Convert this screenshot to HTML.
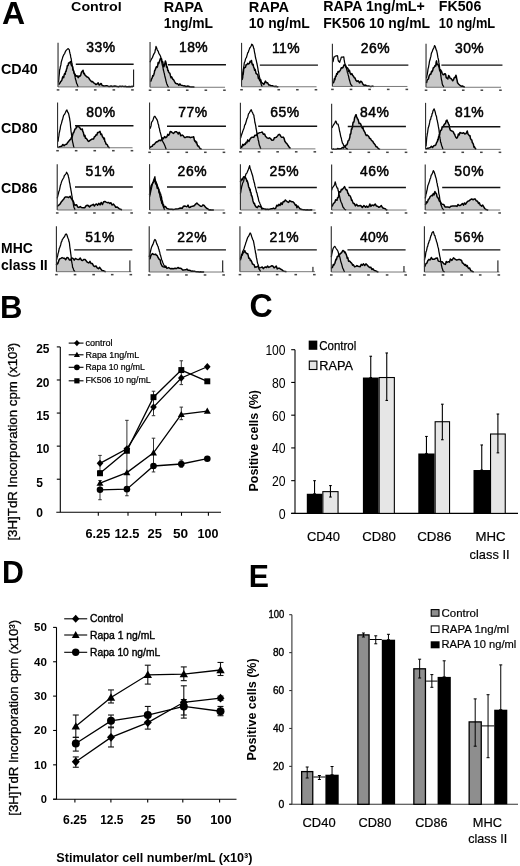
<!DOCTYPE html>
<html><head><meta charset="utf-8"><style>
html,body{margin:0;padding:0;background:#fff;}
svg{display:block;will-change:transform;}
text{font-family:"Liberation Sans",sans-serif;fill:#000;}
</style></head><body>
<svg width="520" height="866" viewBox="0 0 520 866">
<rect width="520" height="866" fill="#fff"/>
<text x="1.90" y="23.50" font-size="32" font-weight="bold" text-anchor="start" >A</text>
<text x="71.10" y="11.30" font-size="13.3" font-weight="bold" text-anchor="start" textLength="50.63" lengthAdjust="spacingAndGlyphs" >Control</text>
<text x="163.66" y="11.50" font-size="14" font-weight="bold" text-anchor="start" textLength="39.80" lengthAdjust="spacingAndGlyphs" >RAPA</text>
<text x="163.76" y="28.30" font-size="14" font-weight="bold" text-anchor="start" textLength="49.30" lengthAdjust="spacingAndGlyphs" >1ng/mL</text>
<text x="248.86" y="11.50" font-size="14" font-weight="bold" text-anchor="start" textLength="40.20" lengthAdjust="spacingAndGlyphs" >RAPA</text>
<text x="248.86" y="28.30" font-size="14" font-weight="bold" text-anchor="start" textLength="60.90" lengthAdjust="spacingAndGlyphs" >10 ng/mL</text>
<text x="323.36" y="11.30" font-size="14" font-weight="bold" text-anchor="start" textLength="101.40" lengthAdjust="spacingAndGlyphs" >RAPA 1ng/mL+</text>
<text x="323.36" y="28.00" font-size="14" font-weight="bold" text-anchor="start" textLength="106.70" lengthAdjust="spacingAndGlyphs" >FK506 10 ng/mL</text>
<text x="438.86" y="11.30" font-size="14" font-weight="bold" text-anchor="start" textLength="42.50" lengthAdjust="spacingAndGlyphs" >FK506</text>
<text x="438.86" y="28.00" font-size="14" font-weight="bold" text-anchor="start" textLength="56.30" lengthAdjust="spacingAndGlyphs" >10 ng/mL</text>
<text x="1.00" y="73.80" font-size="15" font-weight="bold" text-anchor="start" textLength="36.60" lengthAdjust="spacingAndGlyphs" >CD40</text>
<text x="1.00" y="132.70" font-size="15" font-weight="bold" text-anchor="start" textLength="36.60" lengthAdjust="spacingAndGlyphs" >CD80</text>
<text x="1.00" y="192.70" font-size="15" font-weight="bold" text-anchor="start" textLength="36.40" lengthAdjust="spacingAndGlyphs" >CD86</text>
<text x="1.00" y="252.70" font-size="15" font-weight="bold" text-anchor="start" textLength="31.80" lengthAdjust="spacingAndGlyphs" >MHC</text>
<text x="1.00" y="269.60" font-size="15" font-weight="bold" text-anchor="start" textLength="46.70" lengthAdjust="spacingAndGlyphs" >class II</text>
<path d="M58.85,86.95 L58.85,84.85 L59.45,83.11 L60.06,82.95 L60.67,81.46 L61.27,81.10 L61.88,80.15 L62.48,77.57 L63.09,76.42 L63.69,77.71 L64.18,74.80 L64.66,73.44 L65.15,74.28 L65.63,71.52 L66.12,71.25 L66.52,69.03 L66.93,68.28 L67.33,65.70 L67.73,65.84 L68.14,65.28 L68.54,63.10 L69.34,62.91 L70.15,61.90 L70.69,61.55 L71.23,64.84 L71.77,65.72 L72.17,66.12 L72.57,66.57 L72.98,70.12 L73.38,70.23 L73.99,72.13 L74.59,73.79 L75.20,74.54 L75.81,76.33 L77.02,75.67 L78.23,77.61 L79.04,75.81 L79.84,76.38 L80.65,75.41 L81.46,72.15 L82.27,71.18 L83.08,70.33 L83.69,73.63 L84.29,73.36 L84.89,75.10 L85.50,75.40 L86.71,76.79 L87.92,77.26 L88.73,77.97 L89.54,79.43 L90.35,80.24 L91.43,81.67 L92.50,81.59 L93.58,82.82 L94.79,83.42 L96.00,84.60 L97.08,83.98 L98.15,82.83 L99.23,85.05 L100.04,84.53 L100.85,83.55 L101.39,83.69 L101.92,85.17 L102.46,85.45 L103.67,86.00 L104.88,85.95 L106.10,85.87 L107.31,85.83 L108.57,86.42 L109.82,86.55 L111.08,85.96 L112.34,86.49 L113.59,86.26 L114.85,86.11 L116.11,86.24 L117.36,86.61 L118.62,86.72 L119.94,86.14 L121.26,86.54 L122.58,86.14 L123.90,86.61 L125.22,86.34 L126.55,86.73 L127.87,86.80 L129.19,86.46 L130.51,86.81 L131.83,86.33 L133.15,86.46 L133.15,86.95 Z" fill="#c8c8c8" stroke="none"/>
<path d="M58.52,82.42 L58.66,80.31 L58.80,79.53 L58.94,77.22 L59.09,75.94 L59.23,74.72 L59.37,73.49 L59.51,71.34 L59.65,69.67 L59.97,69.21 L60.30,66.82 L60.62,66.10 L60.95,64.40 L61.27,62.06 L61.67,60.76 L62.08,59.43 L62.48,58.19 L62.88,56.71 L63.45,55.45 L64.02,54.32 L64.66,53.56 L65.31,51.74 L66.12,50.42 L66.92,49.62 L68.22,48.61 L69.35,49.84 L69.59,52.00 L69.83,52.57 L70.10,53.95 L70.37,54.55 L70.64,56.46 L70.91,58.04 L71.18,58.60 L71.45,60.78 L71.73,62.42 L72.02,63.23 L72.30,65.64 L72.58,67.03 L72.98,68.95 L73.38,70.10 L73.79,72.21 L74.19,73.87 L74.54,74.26 L74.88,75.69 L75.23,77.94 L75.58,79.73 L75.93,80.11 L76.27,81.78 L76.62,83.36 L77.16,84.22 L77.69,85.66 L78.23,86.95" fill="none" stroke="#000" stroke-width="1.25" stroke-linejoin="round"/>
<path d="M58.85,84.85 L59.45,83.11 L60.06,82.95 L60.67,81.46 L61.27,81.10 L61.88,80.15 L62.48,77.57 L63.09,76.42 L63.69,77.71 L64.18,74.80 L64.66,73.44 L65.15,74.28 L65.63,71.52 L66.12,71.25 L66.52,69.03 L66.93,68.28 L67.33,65.70 L67.73,65.84 L68.14,65.28 L68.54,63.10 L69.34,62.91 L70.15,61.90 L70.69,61.55 L71.23,64.84 L71.77,65.72 L72.17,66.12 L72.57,66.57 L72.98,70.12 L73.38,70.23 L73.99,72.13 L74.59,73.79 L75.20,74.54 L75.81,76.33 L77.02,75.67 L78.23,77.61 L79.04,75.81 L79.84,76.38 L80.65,75.41 L81.46,72.15 L82.27,71.18 L83.08,70.33 L83.69,73.63 L84.29,73.36 L84.89,75.10 L85.50,75.40 L86.71,76.79 L87.92,77.26 L88.73,77.97 L89.54,79.43 L90.35,80.24 L91.43,81.67 L92.50,81.59 L93.58,82.82 L94.79,83.42 L96.00,84.60 L97.08,83.98 L98.15,82.83 L99.23,85.05 L100.04,84.53 L100.85,83.55 L101.39,83.69 L101.92,85.17 L102.46,85.45 L103.67,86.00 L104.88,85.95 L106.10,85.87 L107.31,85.83 L108.57,86.42 L109.82,86.55 L111.08,85.96 L112.34,86.49 L113.59,86.26 L114.85,86.11 L116.11,86.24 L117.36,86.61 L118.62,86.72 L119.94,86.14 L121.26,86.54 L122.58,86.14 L123.90,86.61 L125.22,86.34 L126.55,86.73 L127.87,86.80 L129.19,86.46 L130.51,86.81 L131.83,86.33 L133.15,86.46" fill="none" stroke="#000" stroke-width="1.5" stroke-linejoin="round"/>
<line x1="58.04" y1="42.85" x2="58.04" y2="86.95" stroke="#333" stroke-width="1.15"/>
<line x1="58.04" y1="86.95" x2="133.04" y2="86.95" stroke="#555" stroke-width="0.8"/>
<rect x="56.74" y="89.15" width="2.6" height="1.5" fill="#444"/>
<rect x="75.34" y="89.15" width="2.6" height="1.5" fill="#444"/>
<rect x="93.94" y="89.15" width="2.6" height="1.5" fill="#444"/>
<rect x="112.54" y="89.15" width="2.6" height="1.5" fill="#444"/>
<rect x="131.14" y="89.15" width="2.6" height="1.5" fill="#444"/>
<line x1="75.81" y1="64.33" x2="133.64" y2="64.33" stroke="#111" stroke-width="1.45"/>
<line x1="133.64" y1="69.5" x2="133.64" y2="86.95" stroke="#000" stroke-width="1"/>
<text x="86.32" y="52.33" font-size="13.9" font-weight="normal" stroke="#000" stroke-width="0.5" textLength="28.86" lengthAdjust="spacing">33%</text>
<path d="M150.52,87.27 L150.52,81.62 L151.07,80.53 L151.62,78.83 L152.17,77.96 L152.72,75.62 L153.27,76.03 L153.75,74.76 L154.24,73.00 L154.72,70.32 L155.21,70.04 L155.69,68.21 L156.30,66.78 L156.91,67.54 L157.51,66.45 L158.12,62.57 L158.72,63.65 L159.33,61.71 L159.94,59.88 L160.54,58.39 L161.35,58.68 L161.62,59.15 L161.88,60.86 L162.15,61.87 L162.69,61.74 L163.23,64.86 L163.77,66.81 L164.31,65.70 L164.84,63.62 L165.38,60.95 L165.78,62.05 L166.19,63.63 L166.59,67.10 L167.00,66.53 L167.41,67.92 L167.81,70.61 L168.22,70.19 L168.62,72.06 L169.22,72.95 L169.83,73.13 L170.44,75.79 L171.04,77.73 L171.64,76.82 L172.25,78.02 L172.86,79.56 L173.46,79.51 L174.54,81.61 L175.61,83.31 L176.69,83.67 L177.77,83.86 L178.84,85.30 L179.92,83.87 L181.13,85.36 L182.34,85.41 L183.56,85.89 L184.77,85.87 L186.06,86.46 L187.35,86.11 L188.65,86.29 L189.94,86.87 L191.23,87.09 L192.31,86.90 L193.38,87.05 L194.46,87.27 L194.46,87.27 Z" fill="#c8c8c8" stroke="none"/>
<path d="M150.04,62.23 L150.84,60.26 L151.65,58.68 L152.46,57.55 L153.27,55.32 L154.07,53.62 L154.88,52.48 L155.16,50.46 L155.45,49.52 L155.74,48.14 L156.02,46.47 L156.45,47.40 L156.88,48.56 L157.31,50.03 L158.12,51.04 L158.92,53.65 L159.73,54.73 L160.54,56.33 L160.86,57.45 L161.18,59.42 L161.51,61.06 L161.83,62.24 L162.15,64.37 L162.45,65.51 L162.76,66.31 L163.06,68.12 L163.37,70.07 L163.67,70.94 L163.97,72.47 L164.28,73.13 L164.58,75.14 L164.93,76.48 L165.27,77.78 L165.62,79.20 L165.96,80.81 L166.31,82.13 L166.65,83.45 L167.00,84.38 L167.81,86.04 L168.62,87.27" fill="none" stroke="#000" stroke-width="1.25" stroke-linejoin="round"/>
<path d="M150.52,81.62 L151.07,80.53 L151.62,78.83 L152.17,77.96 L152.72,75.62 L153.27,76.03 L153.75,74.76 L154.24,73.00 L154.72,70.32 L155.21,70.04 L155.69,68.21 L156.30,66.78 L156.91,67.54 L157.51,66.45 L158.12,62.57 L158.72,63.65 L159.33,61.71 L159.94,59.88 L160.54,58.39 L161.35,58.68 L161.62,59.15 L161.88,60.86 L162.15,61.87 L162.69,61.74 L163.23,64.86 L163.77,66.81 L164.31,65.70 L164.84,63.62 L165.38,60.95 L165.78,62.05 L166.19,63.63 L166.59,67.10 L167.00,66.53 L167.41,67.92 L167.81,70.61 L168.22,70.19 L168.62,72.06 L169.22,72.95 L169.83,73.13 L170.44,75.79 L171.04,77.73 L171.64,76.82 L172.25,78.02 L172.86,79.56 L173.46,79.51 L174.54,81.61 L175.61,83.31 L176.69,83.67 L177.77,83.86 L178.84,85.30 L179.92,83.87 L181.13,85.36 L182.34,85.41 L183.56,85.89 L184.77,85.87 L186.06,86.46 L187.35,86.11 L188.65,86.29 L189.94,86.87 L191.23,87.09 L192.31,86.90 L193.38,87.05 L194.46,87.27" fill="none" stroke="#000" stroke-width="1.5" stroke-linejoin="round"/>
<line x1="150.04" y1="42.04" x2="150.04" y2="87.27" stroke="#333" stroke-width="1.15"/>
<line x1="150.04" y1="87.27" x2="225.04" y2="87.27" stroke="#555" stroke-width="0.8"/>
<rect x="148.74" y="89.47" width="2.6" height="1.5" fill="#444"/>
<rect x="167.34" y="89.47" width="2.6" height="1.5" fill="#444"/>
<rect x="185.94" y="89.47" width="2.6" height="1.5" fill="#444"/>
<rect x="204.54" y="89.47" width="2.6" height="1.5" fill="#444"/>
<rect x="223.14" y="89.47" width="2.6" height="1.5" fill="#444"/>
<line x1="167.81" y1="64.65" x2="225.96" y2="64.65" stroke="#111" stroke-width="1.45"/>
<text x="179.12" y="52.33" font-size="13.9" font-weight="normal" stroke="#000" stroke-width="0.5" textLength="28.54" lengthAdjust="spacing">18%</text>
<path d="M242.04,86.78 L242.04,80.00 L242.24,78.85 L242.44,78.44 L242.64,77.66 L242.84,74.57 L243.05,74.69 L243.25,73.30 L243.45,71.97 L243.65,69.22 L244.26,67.77 L244.87,67.56 L245.47,67.36 L246.08,64.77 L246.89,64.66 L247.69,63.34 L248.50,64.01 L249.31,63.48 L250.11,61.15 L250.92,62.02 L251.46,60.47 L252.00,63.65 L252.54,64.90 L253.08,64.22 L253.61,67.11 L254.15,68.04 L254.64,70.29 L255.12,69.33 L255.61,71.39 L256.09,73.48 L256.58,73.93 L257.19,74.22 L257.79,74.79 L258.39,78.40 L259.00,78.31 L259.81,80.85 L260.61,79.54 L261.42,82.49 L262.63,83.30 L263.85,84.41 L265.46,81.07 L266.54,82.87 L267.61,82.78 L268.69,85.03 L269.90,85.07 L271.12,85.82 L272.33,85.73 L273.54,86.33 L274.75,86.56 L275.96,86.28 L277.17,86.66 L278.38,86.78 L278.38,86.78 Z" fill="#c8c8c8" stroke="none"/>
<path d="M242.04,78.38 L242.26,77.55 L242.48,75.48 L242.70,73.78 L242.92,72.18 L243.14,71.44 L243.36,69.14 L243.58,68.25 L243.80,66.71 L244.02,65.24 L244.24,63.18 L244.46,62.45 L244.94,61.52 L245.43,59.39 L245.91,58.12 L246.40,57.63 L246.88,55.88 L247.37,54.16 L247.85,52.50 L248.34,52.25 L248.82,50.39 L249.31,49.26 L249.91,47.78 L250.52,47.07 L251.12,45.99 L251.73,44.19 L252.54,44.68 L253.35,46.76 L253.67,48.27 L253.99,48.64 L254.32,51.01 L254.64,52.80 L254.96,54.01 L255.28,56.09 L255.61,58.03 L255.93,59.12 L256.26,60.46 L256.58,61.80 L256.90,63.50 L257.22,64.97 L257.55,66.53 L257.87,68.29 L258.19,70.79 L258.51,71.98 L258.84,73.96 L259.16,75.74 L259.49,77.20 L259.81,77.75 L260.21,80.59 L260.62,81.04 L261.02,83.61 L261.42,84.97 L262.23,86.78" fill="none" stroke="#000" stroke-width="1.25" stroke-linejoin="round"/>
<path d="M242.04,80.00 L242.24,78.85 L242.44,78.44 L242.64,77.66 L242.84,74.57 L243.05,74.69 L243.25,73.30 L243.45,71.97 L243.65,69.22 L244.26,67.77 L244.87,67.56 L245.47,67.36 L246.08,64.77 L246.89,64.66 L247.69,63.34 L248.50,64.01 L249.31,63.48 L250.11,61.15 L250.92,62.02 L251.46,60.47 L252.00,63.65 L252.54,64.90 L253.08,64.22 L253.61,67.11 L254.15,68.04 L254.64,70.29 L255.12,69.33 L255.61,71.39 L256.09,73.48 L256.58,73.93 L257.19,74.22 L257.79,74.79 L258.39,78.40 L259.00,78.31 L259.81,80.85 L260.61,79.54 L261.42,82.49 L262.63,83.30 L263.85,84.41 L265.46,81.07 L266.54,82.87 L267.61,82.78 L268.69,85.03 L269.90,85.07 L271.12,85.82 L272.33,85.73 L273.54,86.33 L274.75,86.56 L275.96,86.28 L277.17,86.66 L278.38,86.78" fill="none" stroke="#000" stroke-width="1.5" stroke-linejoin="round"/>
<line x1="241.55" y1="42.85" x2="241.55" y2="86.78" stroke="#333" stroke-width="1.15"/>
<line x1="241.55" y1="86.78" x2="316.55" y2="86.78" stroke="#555" stroke-width="0.8"/>
<rect x="240.25" y="88.98" width="2.6" height="1.5" fill="#444"/>
<rect x="258.85" y="88.98" width="2.6" height="1.5" fill="#444"/>
<rect x="277.45" y="88.98" width="2.6" height="1.5" fill="#444"/>
<rect x="296.05" y="88.98" width="2.6" height="1.5" fill="#444"/>
<rect x="314.65" y="88.98" width="2.6" height="1.5" fill="#444"/>
<line x1="259.81" y1="65.14" x2="317.96" y2="65.14" stroke="#111" stroke-width="1.45"/>
<text x="271.93" y="52.82" font-size="13.9" font-weight="normal" stroke="#000" stroke-width="0.5" textLength="27.73" lengthAdjust="spacing">11%</text>
<path d="M332.91,86.46 L332.91,83.23 L333.40,82.61 L333.88,81.76 L334.37,78.70 L334.85,79.78 L335.46,76.31 L336.06,76.44 L336.66,73.61 L337.27,74.26 L338.08,71.49 L338.88,71.97 L339.69,70.94 L340.50,69.84 L341.31,67.72 L342.12,68.10 L342.92,67.64 L344.13,64.79 L345.35,65.51 L346.15,67.55 L346.96,67.75 L347.50,68.00 L348.04,68.69 L348.58,71.58 L349.39,70.22 L350.19,73.19 L351.00,74.50 L351.81,73.66 L352.61,75.21 L353.42,76.23 L354.23,77.69 L355.04,78.01 L355.85,80.29 L357.06,81.43 L358.27,80.78 L359.48,82.96 L360.69,81.21 L361.90,82.10 L363.12,84.50 L364.33,85.28 L365.54,85.07 L366.62,85.62 L367.69,85.96 L368.77,85.98 L369.98,86.39 L371.19,86.46 L372.41,86.10 L373.62,86.46 L373.62,86.46 Z" fill="#c8c8c8" stroke="none"/>
<path d="M332.91,62.23 L333.29,60.61 L333.66,58.51 L334.04,56.88 L334.85,56.55 L335.65,56.01 L337.27,55.62 L337.55,55.86 L337.83,57.80 L338.12,59.90 L338.40,60.99 L339.69,62.27 L340.23,60.25 L340.77,59.18 L341.31,57.05 L342.52,57.18 L343.73,56.79 L343.93,57.84 L344.13,59.82 L344.34,60.68 L344.54,62.19 L345.08,64.31 L345.61,65.11 L346.15,66.64 L346.55,68.80 L346.96,70.22 L347.37,72.45 L347.77,73.19 L348.17,74.97 L348.57,76.15 L348.98,78.32 L349.38,79.74 L349.92,81.54 L350.46,83.60 L351.00,84.69 L351.81,85.83 L352.62,86.46" fill="none" stroke="#000" stroke-width="1.25" stroke-linejoin="round"/>
<path d="M332.91,83.23 L333.40,82.61 L333.88,81.76 L334.37,78.70 L334.85,79.78 L335.46,76.31 L336.06,76.44 L336.66,73.61 L337.27,74.26 L338.08,71.49 L338.88,71.97 L339.69,70.94 L340.50,69.84 L341.31,67.72 L342.12,68.10 L342.92,67.64 L344.13,64.79 L345.35,65.51 L346.15,67.55 L346.96,67.75 L347.50,68.00 L348.04,68.69 L348.58,71.58 L349.39,70.22 L350.19,73.19 L351.00,74.50 L351.81,73.66 L352.61,75.21 L353.42,76.23 L354.23,77.69 L355.04,78.01 L355.85,80.29 L357.06,81.43 L358.27,80.78 L359.48,82.96 L360.69,81.21 L361.90,82.10 L363.12,84.50 L364.33,85.28 L365.54,85.07 L366.62,85.62 L367.69,85.96 L368.77,85.98 L369.98,86.39 L371.19,86.46 L372.41,86.10 L373.62,86.46" fill="none" stroke="#000" stroke-width="1.5" stroke-linejoin="round"/>
<line x1="332.42" y1="43.65" x2="332.42" y2="86.46" stroke="#333" stroke-width="1.15"/>
<line x1="332.42" y1="86.46" x2="407.42" y2="86.46" stroke="#555" stroke-width="0.8"/>
<rect x="331.12" y="88.66" width="2.6" height="1.5" fill="#444"/>
<rect x="349.72" y="88.66" width="2.6" height="1.5" fill="#444"/>
<rect x="368.32" y="88.66" width="2.6" height="1.5" fill="#444"/>
<rect x="386.92" y="88.66" width="2.6" height="1.5" fill="#444"/>
<rect x="405.52" y="88.66" width="2.6" height="1.5" fill="#444"/>
<line x1="348.09" y1="65.14" x2="408.35" y2="65.14" stroke="#111" stroke-width="1.45"/>
<text x="360.70" y="53.14" font-size="13.9" font-weight="normal" stroke="#000" stroke-width="0.5" textLength="28.86" lengthAdjust="spacing">26%</text>
<path d="M426.52,87.27 L426.52,83.23 L427.00,80.65 L427.49,79.72 L427.97,79.29 L428.46,78.89 L429.06,76.16 L429.67,74.87 L430.27,74.00 L430.88,74.26 L431.49,71.34 L432.10,71.79 L432.70,70.36 L433.31,67.67 L433.92,67.78 L434.52,66.52 L435.12,65.42 L435.73,66.04 L436.13,62.30 L436.54,60.89 L437.08,64.54 L437.61,64.11 L438.15,64.62 L438.69,66.33 L439.23,67.78 L439.77,70.77 L440.57,69.90 L441.38,71.13 L442.19,73.37 L443.00,74.48 L443.81,74.81 L444.62,73.68 L445.16,73.67 L445.69,74.59 L446.23,77.71 L447.85,78.95 L448.65,75.46 L449.46,76.62 L450.00,78.07 L450.54,78.54 L451.08,78.40 L452.69,80.83 L453.50,79.83 L454.31,77.52 L455.12,77.56 L455.92,75.17 L456.24,75.97 L456.57,78.08 L456.89,79.37 L457.22,80.84 L457.54,82.83 L458.75,84.17 L459.96,85.33 L461.17,86.18 L462.38,86.00 L463.60,86.66 L464.81,87.27 L464.81,87.27 Z" fill="#c8c8c8" stroke="none"/>
<path d="M426.52,78.38 L426.76,76.70 L427.00,75.10 L427.25,74.32 L427.49,72.79 L427.73,71.56 L427.97,69.34 L428.22,68.06 L428.46,67.67 L428.78,65.61 L429.11,64.12 L429.43,61.67 L429.76,60.47 L430.08,59.57 L430.48,57.59 L430.88,56.46 L431.29,53.73 L431.69,52.48 L432.23,51.61 L432.77,49.77 L433.31,48.90 L433.96,47.38 L434.60,45.55 L435.41,47.13 L436.22,49.99 L436.60,50.39 L436.97,52.11 L437.35,53.92 L437.67,56.07 L438.00,57.88 L438.32,58.97 L438.64,60.62 L438.87,62.64 L439.09,63.54 L439.32,65.28 L439.54,67.23 L439.77,68.88 L440.03,69.66 L440.29,71.38 L440.54,73.03 L440.80,75.47 L441.06,77.04 L441.34,79.05 L441.62,80.37 L441.91,81.27 L442.19,83.60 L442.73,85.26 L443.27,85.87 L443.81,87.27" fill="none" stroke="#000" stroke-width="1.25" stroke-linejoin="round"/>
<path d="M426.52,83.23 L427.00,80.65 L427.49,79.72 L427.97,79.29 L428.46,78.89 L429.06,76.16 L429.67,74.87 L430.27,74.00 L430.88,74.26 L431.49,71.34 L432.10,71.79 L432.70,70.36 L433.31,67.67 L433.92,67.78 L434.52,66.52 L435.12,65.42 L435.73,66.04 L436.13,62.30 L436.54,60.89 L437.08,64.54 L437.61,64.11 L438.15,64.62 L438.69,66.33 L439.23,67.78 L439.77,70.77 L440.57,69.90 L441.38,71.13 L442.19,73.37 L443.00,74.48 L443.81,74.81 L444.62,73.68 L445.16,73.67 L445.69,74.59 L446.23,77.71 L447.85,78.95 L448.65,75.46 L449.46,76.62 L450.00,78.07 L450.54,78.54 L451.08,78.40 L452.69,80.83 L453.50,79.83 L454.31,77.52 L455.12,77.56 L455.92,75.17 L456.24,75.97 L456.57,78.08 L456.89,79.37 L457.22,80.84 L457.54,82.83 L458.75,84.17 L459.96,85.33 L461.17,86.18 L462.38,86.00 L463.60,86.66 L464.81,87.27" fill="none" stroke="#000" stroke-width="1.5" stroke-linejoin="round"/>
<line x1="426.04" y1="43.65" x2="426.04" y2="87.27" stroke="#333" stroke-width="1.15"/>
<line x1="426.04" y1="87.27" x2="501.04" y2="87.27" stroke="#555" stroke-width="0.8"/>
<rect x="424.74" y="89.47" width="2.6" height="1.5" fill="#444"/>
<rect x="443.34" y="89.47" width="2.6" height="1.5" fill="#444"/>
<rect x="461.94" y="89.47" width="2.6" height="1.5" fill="#444"/>
<rect x="480.54" y="89.47" width="2.6" height="1.5" fill="#444"/>
<rect x="499.14" y="89.47" width="2.6" height="1.5" fill="#444"/>
<line x1="441.38" y1="65.14" x2="502.45" y2="65.14" stroke="#111" stroke-width="1.45"/>
<text x="455.12" y="53.14" font-size="13.9" font-weight="normal" stroke="#000" stroke-width="0.5" textLength="28.54" lengthAdjust="spacing">30%</text>
<path d="M58.04,147.75 L58.04,147.27 L59.25,146.96 L60.46,146.41 L61.67,146.21 L62.88,144.44 L64.09,145.80 L65.31,144.50 L66.52,144.34 L67.73,142.31 L68.54,141.72 L69.34,140.42 L70.15,139.52 L70.76,139.42 L71.37,137.50 L71.97,137.66 L72.58,135.38 L73.12,133.03 L73.65,132.78 L74.19,131.20 L75.00,128.90 L75.81,128.77 L76.62,126.52 L77.42,126.73 L79.04,126.85 L79.84,127.84 L80.65,129.17 L81.46,129.42 L82.27,128.98 L82.81,131.59 L83.34,132.30 L83.88,135.04 L84.42,136.53 L84.96,135.35 L85.50,138.34 L86.31,138.37 L87.12,139.43 L87.93,140.84 L88.73,141.39 L90.35,140.22 L91.56,139.34 L92.77,139.00 L93.58,138.91 L94.38,136.64 L95.19,136.41 L96.00,134.83 L96.81,134.99 L97.62,132.43 L98.42,132.59 L100.04,131.41 L100.84,134.54 L101.65,134.15 L102.46,136.78 L103.27,137.60 L103.81,139.08 L104.34,138.15 L104.88,141.51 L105.42,141.96 L105.96,144.04 L106.50,144.23 L107.31,144.82 L108.12,146.74 L108.93,147.45 L109.73,147.75 L109.73,147.75 Z" fill="#c8c8c8" stroke="none"/>
<path d="M58.04,141.62 L58.27,139.61 L58.49,137.89 L58.72,136.69 L58.94,135.38 L59.17,133.07 L59.49,132.04 L59.81,130.37 L60.14,129.11 L60.46,126.58 L60.87,124.96 L61.27,123.88 L61.67,122.59 L62.08,120.74 L62.62,119.34 L63.15,117.06 L63.69,115.12 L64.50,114.42 L65.31,112.75 L66.12,110.91 L66.92,110.02 L67.57,111.85 L68.22,112.77 L68.60,113.74 L68.97,115.43 L69.35,117.27 L69.62,118.33 L69.88,120.33 L70.15,121.87 L70.31,123.20 L70.47,125.50 L70.64,127.70 L70.80,128.10 L70.96,130.58 L71.16,132.08 L71.36,133.24 L71.57,135.36 L71.77,137.15 L72.04,138.05 L72.31,139.88 L72.58,141.80 L72.85,142.88 L73.11,143.87 L73.38,145.51 L73.78,146.77 L74.19,147.75" fill="none" stroke="#000" stroke-width="1.25" stroke-linejoin="round"/>
<path d="M58.04,147.27 L59.25,146.96 L60.46,146.41 L61.67,146.21 L62.88,144.44 L64.09,145.80 L65.31,144.50 L66.52,144.34 L67.73,142.31 L68.54,141.72 L69.34,140.42 L70.15,139.52 L70.76,139.42 L71.37,137.50 L71.97,137.66 L72.58,135.38 L73.12,133.03 L73.65,132.78 L74.19,131.20 L75.00,128.90 L75.81,128.77 L76.62,126.52 L77.42,126.73 L79.04,126.85 L79.84,127.84 L80.65,129.17 L81.46,129.42 L82.27,128.98 L82.81,131.59 L83.34,132.30 L83.88,135.04 L84.42,136.53 L84.96,135.35 L85.50,138.34 L86.31,138.37 L87.12,139.43 L87.93,140.84 L88.73,141.39 L90.35,140.22 L91.56,139.34 L92.77,139.00 L93.58,138.91 L94.38,136.64 L95.19,136.41 L96.00,134.83 L96.81,134.99 L97.62,132.43 L98.42,132.59 L100.04,131.41 L100.84,134.54 L101.65,134.15 L102.46,136.78 L103.27,137.60 L103.81,139.08 L104.34,138.15 L104.88,141.51 L105.42,141.96 L105.96,144.04 L106.50,144.23 L107.31,144.82 L108.12,146.74 L108.93,147.45 L109.73,147.75" fill="none" stroke="#000" stroke-width="1.5" stroke-linejoin="round"/>
<line x1="57.55" y1="102.52" x2="57.55" y2="147.75" stroke="#333" stroke-width="1.15"/>
<line x1="57.55" y1="147.75" x2="132.55" y2="147.75" stroke="#555" stroke-width="0.8"/>
<rect x="56.25" y="149.95" width="2.6" height="1.5" fill="#444"/>
<rect x="74.85" y="149.95" width="2.6" height="1.5" fill="#444"/>
<rect x="93.45" y="149.95" width="2.6" height="1.5" fill="#444"/>
<rect x="112.05" y="149.95" width="2.6" height="1.5" fill="#444"/>
<rect x="130.65" y="149.95" width="2.6" height="1.5" fill="#444"/>
<line x1="75.0" y1="125.78" x2="133.48" y2="125.78" stroke="#111" stroke-width="1.45"/>
<text x="86.32" y="116.69" font-size="13.9" font-weight="normal" stroke="#000" stroke-width="0.5" textLength="28.86" lengthAdjust="spacing">80%</text>
<path d="M150.04,149.37 L150.04,147.75 L151.12,146.41 L152.19,146.32 L153.27,144.48 L154.35,144.39 L155.42,142.84 L156.50,141.86 L157.58,141.82 L158.65,140.55 L159.73,140.28 L160.94,140.68 L162.15,137.89 L163.37,138.73 L164.58,136.56 L165.79,137.60 L167.00,136.62 L167.81,134.34 L168.61,135.32 L169.42,134.15 L170.23,131.54 L171.04,131.66 L172.25,132.65 L173.46,133.43 L175.08,131.81 L176.29,131.63 L177.50,132.69 L178.31,134.03 L179.12,132.40 L179.93,133.20 L180.73,135.85 L181.94,135.04 L183.15,135.64 L184.37,137.42 L185.58,137.46 L186.79,136.82 L188.00,136.99 L189.21,137.01 L190.42,137.64 L191.63,137.17 L192.85,137.03 L193.66,136.75 L194.46,140.34 L195.00,141.42 L195.54,140.93 L196.08,142.77 L196.62,142.14 L197.15,144.57 L197.69,146.00 L198.50,145.99 L199.31,147.42 L200.12,148.63 L201.73,149.37 L201.73,149.37 Z" fill="#c8c8c8" stroke="none"/>
<path d="M150.04,128.69 L150.85,126.58 L151.12,125.40 L151.38,123.27 L151.65,122.07 L152.46,121.15 L153.27,119.16 L154.07,116.73 L154.88,116.27 L155.45,117.20 L156.02,118.22 L156.67,119.11 L157.31,120.34 L157.74,121.79 L158.17,124.02 L158.60,124.83 L158.98,127.70 L159.35,128.14 L159.73,130.48 L160.13,132.03 L160.54,133.35 L160.94,134.84 L161.35,136.68 L161.89,138.15 L162.42,140.66 L162.96,141.82 L163.77,143.26 L164.58,145.08 L165.12,146.35 L165.65,147.74 L166.19,149.37" fill="none" stroke="#000" stroke-width="1.25" stroke-linejoin="round"/>
<path d="M150.04,147.75 L151.12,146.41 L152.19,146.32 L153.27,144.48 L154.35,144.39 L155.42,142.84 L156.50,141.86 L157.58,141.82 L158.65,140.55 L159.73,140.28 L160.94,140.68 L162.15,137.89 L163.37,138.73 L164.58,136.56 L165.79,137.60 L167.00,136.62 L167.81,134.34 L168.61,135.32 L169.42,134.15 L170.23,131.54 L171.04,131.66 L172.25,132.65 L173.46,133.43 L175.08,131.81 L176.29,131.63 L177.50,132.69 L178.31,134.03 L179.12,132.40 L179.93,133.20 L180.73,135.85 L181.94,135.04 L183.15,135.64 L184.37,137.42 L185.58,137.46 L186.79,136.82 L188.00,136.99 L189.21,137.01 L190.42,137.64 L191.63,137.17 L192.85,137.03 L193.66,136.75 L194.46,140.34 L195.00,141.42 L195.54,140.93 L196.08,142.77 L196.62,142.14 L197.15,144.57 L197.69,146.00 L198.50,145.99 L199.31,147.42 L200.12,148.63 L201.73,149.37" fill="none" stroke="#000" stroke-width="1.5" stroke-linejoin="round"/>
<line x1="149.55" y1="102.52" x2="149.55" y2="149.37" stroke="#333" stroke-width="1.15"/>
<line x1="149.55" y1="149.37" x2="224.55" y2="149.37" stroke="#555" stroke-width="0.8"/>
<rect x="148.25" y="151.57" width="2.6" height="1.5" fill="#444"/>
<rect x="166.85" y="151.57" width="2.6" height="1.5" fill="#444"/>
<rect x="185.45" y="151.57" width="2.6" height="1.5" fill="#444"/>
<rect x="204.05" y="151.57" width="2.6" height="1.5" fill="#444"/>
<rect x="222.65" y="151.57" width="2.6" height="1.5" fill="#444"/>
<line x1="167.0" y1="126.27" x2="225.96" y2="126.27" stroke="#111" stroke-width="1.45"/>
<text x="178.32" y="117.18" font-size="13.9" font-weight="normal" stroke="#000" stroke-width="0.5" textLength="28.86" lengthAdjust="spacing">77%</text>
<path d="M240.42,148.88 L240.42,146.46 L241.63,147.39 L242.85,144.40 L243.66,145.48 L244.46,143.99 L245.27,144.47 L246.08,142.16 L246.88,142.79 L247.69,139.86 L248.91,141.39 L250.12,138.95 L251.33,137.50 L252.54,137.15 L253.75,137.38 L254.96,135.15 L256.17,135.48 L257.38,133.78 L258.60,133.14 L259.81,132.62 L261.02,132.38 L262.23,132.10 L263.44,134.32 L264.65,134.11 L265.46,136.16 L266.27,137.08 L267.08,137.88 L268.29,138.43 L269.50,137.79 L270.71,138.86 L271.92,140.26 L273.54,140.12 L274.35,137.79 L275.15,137.64 L276.37,137.26 L277.58,135.87 L278.39,134.82 L279.19,134.27 L280.00,134.90 L280.81,136.43 L281.62,137.21 L282.43,137.37 L283.23,137.06 L284.04,138.21 L284.85,141.24 L285.39,141.97 L285.92,142.84 L286.46,143.12 L287.27,144.20 L288.08,145.56 L289.29,147.25 L290.50,148.56 L290.50,148.88 Z" fill="#c8c8c8" stroke="none"/>
<path d="M240.42,138.38 L240.96,136.91 L241.50,134.88 L242.04,133.62 L242.58,131.82 L243.11,130.37 L243.65,129.03 L244.19,127.47 L244.73,124.97 L245.27,124.49 L245.81,122.73 L246.34,121.06 L246.88,118.93 L247.42,118.02 L247.96,116.20 L248.50,113.78 L249.31,112.80 L250.12,111.41 L251.25,109.66 L251.89,111.48 L252.54,112.58 L253.19,114.39 L253.83,115.18 L254.11,117.61 L254.40,118.50 L254.68,120.93 L254.96,122.79 L255.24,123.67 L255.52,124.86 L255.81,126.44 L256.09,128.71 L256.41,129.82 L256.74,132.26 L257.06,133.69 L257.34,135.16 L257.62,137.01 L257.91,137.90 L258.19,139.94 L258.60,140.98 L259.00,143.30 L259.40,145.26 L259.81,145.98 L260.38,147.74 L260.94,148.88" fill="none" stroke="#000" stroke-width="1.25" stroke-linejoin="round"/>
<path d="M240.42,146.46 L241.63,147.39 L242.85,144.40 L243.66,145.48 L244.46,143.99 L245.27,144.47 L246.08,142.16 L246.88,142.79 L247.69,139.86 L248.91,141.39 L250.12,138.95 L251.33,137.50 L252.54,137.15 L253.75,137.38 L254.96,135.15 L256.17,135.48 L257.38,133.78 L258.60,133.14 L259.81,132.62 L261.02,132.38 L262.23,132.10 L263.44,134.32 L264.65,134.11 L265.46,136.16 L266.27,137.08 L267.08,137.88 L268.29,138.43 L269.50,137.79 L270.71,138.86 L271.92,140.26 L273.54,140.12 L274.35,137.79 L275.15,137.64 L276.37,137.26 L277.58,135.87 L278.39,134.82 L279.19,134.27 L280.00,134.90 L280.81,136.43 L281.62,137.21 L282.43,137.37 L283.23,137.06 L284.04,138.21 L284.85,141.24 L285.39,141.97 L285.92,142.84 L286.46,143.12 L287.27,144.20 L288.08,145.56 L289.29,147.25 L290.50,148.56" fill="none" stroke="#000" stroke-width="1.5" stroke-linejoin="round"/>
<line x1="240.42" y1="102.85" x2="240.42" y2="148.88" stroke="#333" stroke-width="1.15"/>
<line x1="240.42" y1="148.88" x2="315.41999999999996" y2="148.88" stroke="#555" stroke-width="0.8"/>
<rect x="239.12" y="151.08" width="2.6" height="1.5" fill="#444"/>
<rect x="257.72" y="151.08" width="2.6" height="1.5" fill="#444"/>
<rect x="276.32" y="151.08" width="2.6" height="1.5" fill="#444"/>
<rect x="294.92" y="151.08" width="2.6" height="1.5" fill="#444"/>
<rect x="313.52" y="151.08" width="2.6" height="1.5" fill="#444"/>
<line x1="258.19" y1="126.27" x2="317.15" y2="126.27" stroke="#111" stroke-width="1.45"/>
<text x="270.32" y="117.18" font-size="13.9" font-weight="normal" stroke="#000" stroke-width="0.5" textLength="28.86" lengthAdjust="spacing">65%</text>
<path d="M331.94,149.37 L331.94,149.37 L333.45,149.07 L334.95,149.37 L336.46,149.36 L337.67,148.55 L338.88,148.97 L340.10,148.71 L341.31,148.53 L342.39,147.41 L343.46,148.03 L344.54,146.12 L345.35,146.51 L346.15,144.95 L346.96,144.77 L347.50,143.33 L348.04,140.90 L348.58,140.48 L348.98,140.10 L349.38,138.67 L349.79,137.50 L350.19,134.03 L350.51,134.25 L350.84,133.54 L351.16,130.73 L351.49,128.71 L351.81,129.39 L352.13,127.58 L352.45,127.41 L352.78,124.12 L353.10,122.37 L353.42,122.45 L353.83,121.98 L354.23,120.22 L354.63,117.49 L355.04,116.93 L355.61,115.13 L356.17,114.69 L356.60,117.09 L357.03,117.52 L357.46,119.10 L358.00,119.31 L358.54,121.20 L359.08,123.60 L359.88,123.16 L360.69,124.11 L361.50,126.40 L362.31,128.16 L362.85,126.92 L363.38,129.62 L363.92,130.59 L364.46,131.68 L365.00,132.50 L365.54,134.05 L366.35,135.59 L367.15,135.00 L367.96,135.78 L368.77,136.58 L369.57,138.53 L370.38,138.47 L371.19,139.92 L372.00,140.89 L372.81,141.44 L373.62,143.05 L374.42,143.85 L375.23,144.93 L376.04,146.71 L376.84,146.64 L377.65,147.75 L378.87,149.01 L380.08,149.37 L380.08,149.37 Z" fill="#c8c8c8" stroke="none"/>
<path d="M331.94,127.88 L332.59,126.47 L333.23,125.31 L334.52,123.32 L335.08,122.34 L335.65,121.05 L336.21,121.64 L336.78,123.94 L338.08,124.01 L338.51,126.15 L338.94,127.40 L339.37,129.82 L339.65,131.51 L339.94,132.37 L340.22,133.54 L340.50,135.48 L340.88,137.20 L341.25,137.78 L341.63,139.98 L342.06,141.67 L342.49,143.27 L342.92,143.57 L343.73,145.79 L344.54,146.08 L345.35,147.42 L346.15,148.20 L347.77,149.37" fill="none" stroke="#000" stroke-width="1.25" stroke-linejoin="round"/>
<path d="M331.94,149.37 L333.45,149.07 L334.95,149.37 L336.46,149.36 L337.67,148.55 L338.88,148.97 L340.10,148.71 L341.31,148.53 L342.39,147.41 L343.46,148.03 L344.54,146.12 L345.35,146.51 L346.15,144.95 L346.96,144.77 L347.50,143.33 L348.04,140.90 L348.58,140.48 L348.98,140.10 L349.38,138.67 L349.79,137.50 L350.19,134.03 L350.51,134.25 L350.84,133.54 L351.16,130.73 L351.49,128.71 L351.81,129.39 L352.13,127.58 L352.45,127.41 L352.78,124.12 L353.10,122.37 L353.42,122.45 L353.83,121.98 L354.23,120.22 L354.63,117.49 L355.04,116.93 L355.61,115.13 L356.17,114.69 L356.60,117.09 L357.03,117.52 L357.46,119.10 L358.00,119.31 L358.54,121.20 L359.08,123.60 L359.88,123.16 L360.69,124.11 L361.50,126.40 L362.31,128.16 L362.85,126.92 L363.38,129.62 L363.92,130.59 L364.46,131.68 L365.00,132.50 L365.54,134.05 L366.35,135.59 L367.15,135.00 L367.96,135.78 L368.77,136.58 L369.57,138.53 L370.38,138.47 L371.19,139.92 L372.00,140.89 L372.81,141.44 L373.62,143.05 L374.42,143.85 L375.23,144.93 L376.04,146.71 L376.84,146.64 L377.65,147.75 L378.87,149.01 L380.08,149.37" fill="none" stroke="#000" stroke-width="1.5" stroke-linejoin="round"/>
<line x1="331.62" y1="103.65" x2="331.62" y2="149.37" stroke="#333" stroke-width="1.15"/>
<line x1="331.62" y1="149.37" x2="406.62" y2="149.37" stroke="#555" stroke-width="0.8"/>
<rect x="330.32" y="151.57" width="2.6" height="1.5" fill="#444"/>
<rect x="348.92" y="151.57" width="2.6" height="1.5" fill="#444"/>
<rect x="367.52" y="151.57" width="2.6" height="1.5" fill="#444"/>
<rect x="386.12" y="151.57" width="2.6" height="1.5" fill="#444"/>
<rect x="404.72" y="151.57" width="2.6" height="1.5" fill="#444"/>
<line x1="347.77" y1="126.59" x2="405.92" y2="126.59" stroke="#111" stroke-width="1.45"/>
<text x="359.89" y="117.18" font-size="13.9" font-weight="normal" stroke="#000" stroke-width="0.5" textLength="28.86" lengthAdjust="spacing">84%</text>
<path d="M426.04,149.37 L426.04,148.88 L427.12,148.31 L428.19,148.30 L429.27,147.90 L430.35,147.50 L431.42,146.32 L432.50,147.47 L433.71,145.82 L434.92,145.53 L435.73,144.97 L436.54,142.68 L437.35,141.53 L437.75,139.37 L438.15,139.99 L438.56,136.78 L438.96,136.39 L439.28,134.55 L439.61,134.82 L439.93,132.78 L440.26,131.62 L440.58,130.39 L441.12,130.19 L441.65,129.50 L442.19,126.72 L443.00,126.93 L443.81,125.24 L444.62,123.99 L445.42,123.57 L446.23,120.60 L447.04,120.11 L447.58,121.92 L448.11,122.76 L448.65,124.07 L449.19,125.15 L449.73,128.52 L450.27,130.01 L451.07,130.55 L451.88,131.13 L452.69,131.26 L453.50,132.20 L454.04,133.81 L454.58,134.07 L455.12,135.70 L455.93,137.50 L456.73,138.14 L457.27,137.73 L457.81,136.40 L458.35,134.03 L459.15,134.92 L459.96,132.52 L461.17,133.07 L462.38,133.18 L463.60,132.76 L464.81,133.91 L466.02,133.63 L467.23,131.04 L468.04,134.17 L468.84,134.94 L469.65,136.06 L470.05,135.75 L470.46,138.69 L470.87,139.02 L471.27,139.88 L471.81,140.04 L472.34,142.74 L472.88,143.13 L473.42,144.52 L473.96,147.22 L474.50,146.83 L475.31,148.54 L476.12,149.37 L476.12,149.37 Z" fill="#c8c8c8" stroke="none"/>
<path d="M426.04,146.46 L426.18,144.66 L426.31,142.69 L426.45,141.47 L426.58,139.53 L426.72,137.90 L426.85,137.01 L427.08,135.66 L427.31,133.56 L427.54,132.94 L427.77,131.28 L428.00,129.29 L428.23,127.90 L428.46,127.36 L428.87,126.04 L429.27,124.30 L429.67,122.38 L430.08,120.01 L430.62,119.34 L431.15,116.77 L431.69,116.16 L432.12,113.58 L432.55,113.20 L432.98,110.89 L434.12,108.91 L434.69,110.36 L435.25,112.21 L435.68,114.44 L436.11,115.44 L436.54,116.79 L436.86,119.35 L437.19,120.15 L437.51,121.77 L437.83,123.45 L438.11,124.97 L438.39,126.72 L438.68,128.09 L438.96,129.63 L439.16,131.39 L439.37,133.39 L439.57,135.75 L439.77,137.24 L440.04,138.46 L440.31,139.53 L440.58,142.22 L440.96,142.64 L441.33,144.34 L441.71,145.74 L442.14,146.77 L442.57,148.03 L443.00,149.37" fill="none" stroke="#000" stroke-width="1.25" stroke-linejoin="round"/>
<path d="M426.04,148.88 L427.12,148.31 L428.19,148.30 L429.27,147.90 L430.35,147.50 L431.42,146.32 L432.50,147.47 L433.71,145.82 L434.92,145.53 L435.73,144.97 L436.54,142.68 L437.35,141.53 L437.75,139.37 L438.15,139.99 L438.56,136.78 L438.96,136.39 L439.28,134.55 L439.61,134.82 L439.93,132.78 L440.26,131.62 L440.58,130.39 L441.12,130.19 L441.65,129.50 L442.19,126.72 L443.00,126.93 L443.81,125.24 L444.62,123.99 L445.42,123.57 L446.23,120.60 L447.04,120.11 L447.58,121.92 L448.11,122.76 L448.65,124.07 L449.19,125.15 L449.73,128.52 L450.27,130.01 L451.07,130.55 L451.88,131.13 L452.69,131.26 L453.50,132.20 L454.04,133.81 L454.58,134.07 L455.12,135.70 L455.93,137.50 L456.73,138.14 L457.27,137.73 L457.81,136.40 L458.35,134.03 L459.15,134.92 L459.96,132.52 L461.17,133.07 L462.38,133.18 L463.60,132.76 L464.81,133.91 L466.02,133.63 L467.23,131.04 L468.04,134.17 L468.84,134.94 L469.65,136.06 L470.05,135.75 L470.46,138.69 L470.87,139.02 L471.27,139.88 L471.81,140.04 L472.34,142.74 L472.88,143.13 L473.42,144.52 L473.96,147.22 L474.50,146.83 L475.31,148.54 L476.12,149.37" fill="none" stroke="#000" stroke-width="1.5" stroke-linejoin="round"/>
<line x1="425.55" y1="102.85" x2="425.55" y2="149.37" stroke="#333" stroke-width="1.15"/>
<line x1="425.55" y1="149.37" x2="500.55" y2="149.37" stroke="#555" stroke-width="0.8"/>
<rect x="424.25" y="151.57" width="2.6" height="1.5" fill="#444"/>
<rect x="442.85" y="151.57" width="2.6" height="1.5" fill="#444"/>
<rect x="461.45" y="151.57" width="2.6" height="1.5" fill="#444"/>
<rect x="480.05" y="151.57" width="2.6" height="1.5" fill="#444"/>
<rect x="498.65" y="151.57" width="2.6" height="1.5" fill="#444"/>
<line x1="442.19" y1="126.75" x2="500.35" y2="126.75" stroke="#111" stroke-width="1.45"/>
<text x="455.12" y="117.18" font-size="13.9" font-weight="normal" stroke="#000" stroke-width="0.5" textLength="28.54" lengthAdjust="spacing">81%</text>
<path d="M57.23,210.02 L57.23,206.46 L58.85,205.03 L59.66,204.45 L60.46,203.41 L61.27,201.91 L62.08,201.05 L62.88,199.96 L63.69,199.24 L64.50,197.79 L65.31,196.97 L66.92,196.89 L68.54,197.55 L70.15,196.25 L70.96,197.97 L71.77,198.97 L72.57,200.55 L73.38,201.43 L74.19,203.83 L75.00,205.26 L75.81,205.04 L76.62,204.82 L77.83,207.11 L79.04,207.46 L80.25,206.52 L81.46,207.61 L83.07,207.70 L84.69,207.72 L86.31,205.54 L87.92,205.35 L89.53,206.91 L91.15,205.34 L92.23,205.13 L93.30,204.28 L94.38,206.06 L95.46,204.43 L96.54,204.09 L97.62,205.17 L98.83,203.28 L100.04,204.84 L101.25,202.46 L102.46,204.55 L103.67,201.79 L104.88,201.42 L106.09,202.07 L107.31,202.68 L108.52,202.39 L109.73,203.49 L110.94,202.75 L112.15,205.04 L113.37,204.01 L114.58,205.40 L115.79,207.31 L117.00,206.97 L118.21,207.77 L119.42,209.03 L120.63,209.16 L121.85,210.02 L121.85,210.02 Z" fill="#c8c8c8" stroke="none"/>
<path d="M57.23,198.38 L57.63,196.64 L58.04,194.93 L58.45,193.52 L58.85,191.41 L59.25,190.90 L59.66,189.13 L60.06,187.14 L60.46,185.18 L61.00,183.69 L61.54,181.90 L62.08,180.49 L62.88,178.98 L63.69,177.73 L64.50,175.20 L65.31,174.76 L65.95,173.74 L66.60,172.27 L67.73,174.22 L68.11,175.19 L68.48,176.99 L68.86,178.36 L69.18,180.07 L69.50,182.54 L69.83,183.42 L70.15,185.73 L70.41,187.30 L70.67,188.25 L70.93,190.07 L71.19,191.40 L71.45,192.90 L71.68,194.31 L71.90,195.84 L72.13,196.61 L72.35,199.24 L72.58,199.59 L72.86,200.90 L73.14,202.46 L73.43,204.68 L73.71,206.32 L74.14,207.79 L74.57,208.44 L75.00,210.02" fill="none" stroke="#000" stroke-width="1.25" stroke-linejoin="round"/>
<path d="M57.23,206.46 L58.85,205.03 L59.66,204.45 L60.46,203.41 L61.27,201.91 L62.08,201.05 L62.88,199.96 L63.69,199.24 L64.50,197.79 L65.31,196.97 L66.92,196.89 L68.54,197.55 L70.15,196.25 L70.96,197.97 L71.77,198.97 L72.57,200.55 L73.38,201.43 L74.19,203.83 L75.00,205.26 L75.81,205.04 L76.62,204.82 L77.83,207.11 L79.04,207.46 L80.25,206.52 L81.46,207.61 L83.07,207.70 L84.69,207.72 L86.31,205.54 L87.92,205.35 L89.53,206.91 L91.15,205.34 L92.23,205.13 L93.30,204.28 L94.38,206.06 L95.46,204.43 L96.54,204.09 L97.62,205.17 L98.83,203.28 L100.04,204.84 L101.25,202.46 L102.46,204.55 L103.67,201.79 L104.88,201.42 L106.09,202.07 L107.31,202.68 L108.52,202.39 L109.73,203.49 L110.94,202.75 L112.15,205.04 L113.37,204.01 L114.58,205.40 L115.79,207.31 L117.00,206.97 L118.21,207.77 L119.42,209.03 L120.63,209.16 L121.85,210.02" fill="none" stroke="#000" stroke-width="1.5" stroke-linejoin="round"/>
<line x1="57.23" y1="164.14" x2="57.23" y2="210.02" stroke="#333" stroke-width="1.15"/>
<line x1="57.23" y1="210.02" x2="132.23" y2="210.02" stroke="#555" stroke-width="0.8"/>
<rect x="55.93" y="212.22" width="2.6" height="1.5" fill="#444"/>
<rect x="74.53" y="212.22" width="2.6" height="1.5" fill="#444"/>
<rect x="93.13" y="212.22" width="2.6" height="1.5" fill="#444"/>
<rect x="111.73" y="212.22" width="2.6" height="1.5" fill="#444"/>
<rect x="130.33" y="212.22" width="2.6" height="1.5" fill="#444"/>
<line x1="75.0" y1="187.08" x2="132.83" y2="187.08" stroke="#111" stroke-width="1.45"/>
<text x="85.51" y="175.56" font-size="13.9" font-weight="normal" stroke="#000" stroke-width="0.5" textLength="29.18" lengthAdjust="spacing">51%</text>
<path d="M149.55,210.02 L149.55,195.15 L149.77,193.17 L149.98,192.58 L150.20,191.70 L150.42,191.05 L150.63,188.06 L150.85,187.17 L151.25,185.52 L151.66,184.80 L152.06,184.40 L152.46,183.61 L153.11,182.62 L153.75,181.85 L154.88,179.37 L155.26,180.97 L155.64,184.02 L156.02,184.03 L156.45,183.93 L156.88,186.34 L157.31,188.30 L157.85,187.40 L158.38,188.82 L158.92,189.39 L159.32,192.86 L159.73,191.90 L160.13,193.26 L160.54,193.97 L160.86,195.25 L161.19,196.22 L161.51,197.40 L161.83,200.08 L162.21,200.78 L162.58,202.32 L162.96,204.26 L163.53,204.73 L164.09,207.14 L165.38,206.55 L166.59,208.07 L167.81,208.79 L169.16,209.21 L170.50,209.17 L171.85,209.21 L173.14,209.57 L174.43,209.37 L175.73,208.97 L177.02,209.10 L178.31,208.88 L179.60,208.24 L180.89,208.03 L182.19,208.35 L183.48,206.22 L184.77,205.98 L185.85,206.35 L186.92,206.68 L188.00,205.07 L189.08,207.53 L190.15,207.29 L191.23,206.43 L192.31,206.27 L193.38,206.05 L194.46,205.49 L195.67,204.05 L196.88,203.08 L198.09,204.27 L199.31,205.26 L200.52,206.21 L201.73,206.38 L202.94,204.86 L204.15,205.48 L205.37,207.14 L206.58,208.23 L207.79,208.93 L209.00,209.89 L210.21,209.80 L211.43,209.96 L212.64,210.02 L213.85,210.02 L213.85,210.02 Z" fill="#c8c8c8" stroke="none"/>
<path d="M149.55,196.77 L149.88,195.10 L150.20,193.66 L150.53,192.61 L150.85,190.40 L151.25,189.13 L151.66,187.45 L152.06,185.37 L152.46,183.54 L153.00,182.33 L153.54,180.33 L154.08,178.84 L154.88,176.69 L155.26,179.66 L155.64,181.25 L156.02,181.63 L156.67,183.43 L157.31,185.15 L157.74,186.83 L158.17,188.41 L158.60,190.10 L158.98,192.06 L159.35,193.07 L159.73,194.62 L160.11,197.07 L160.48,197.94 L160.86,200.41 L161.29,200.89 L161.72,203.37 L162.15,203.49 L162.80,205.20 L163.45,206.96 L164.01,208.35 L164.58,210.02" fill="none" stroke="#000" stroke-width="1.25" stroke-linejoin="round"/>
<path d="M149.55,195.15 L149.77,193.17 L149.98,192.58 L150.20,191.70 L150.42,191.05 L150.63,188.06 L150.85,187.17 L151.25,185.52 L151.66,184.80 L152.06,184.40 L152.46,183.61 L153.11,182.62 L153.75,181.85 L154.88,179.37 L155.26,180.97 L155.64,184.02 L156.02,184.03 L156.45,183.93 L156.88,186.34 L157.31,188.30 L157.85,187.40 L158.38,188.82 L158.92,189.39 L159.32,192.86 L159.73,191.90 L160.13,193.26 L160.54,193.97 L160.86,195.25 L161.19,196.22 L161.51,197.40 L161.83,200.08 L162.21,200.78 L162.58,202.32 L162.96,204.26 L163.53,204.73 L164.09,207.14 L165.38,206.55 L166.59,208.07 L167.81,208.79 L169.16,209.21 L170.50,209.17 L171.85,209.21 L173.14,209.57 L174.43,209.37 L175.73,208.97 L177.02,209.10 L178.31,208.88 L179.60,208.24 L180.89,208.03 L182.19,208.35 L183.48,206.22 L184.77,205.98 L185.85,206.35 L186.92,206.68 L188.00,205.07 L189.08,207.53 L190.15,207.29 L191.23,206.43 L192.31,206.27 L193.38,206.05 L194.46,205.49 L195.67,204.05 L196.88,203.08 L198.09,204.27 L199.31,205.26 L200.52,206.21 L201.73,206.38 L202.94,204.86 L204.15,205.48 L205.37,207.14 L206.58,208.23 L207.79,208.93 L209.00,209.89 L210.21,209.80 L211.43,209.96 L212.64,210.02 L213.85,210.02" fill="none" stroke="#000" stroke-width="1.5" stroke-linejoin="round"/>
<line x1="149.55" y1="164.14" x2="149.55" y2="210.02" stroke="#333" stroke-width="1.15"/>
<line x1="149.55" y1="210.02" x2="224.55" y2="210.02" stroke="#555" stroke-width="0.8"/>
<rect x="148.25" y="212.22" width="2.6" height="1.5" fill="#444"/>
<rect x="166.85" y="212.22" width="2.6" height="1.5" fill="#444"/>
<rect x="185.45" y="212.22" width="2.6" height="1.5" fill="#444"/>
<rect x="204.05" y="212.22" width="2.6" height="1.5" fill="#444"/>
<rect x="222.65" y="212.22" width="2.6" height="1.5" fill="#444"/>
<line x1="167.0" y1="187.08" x2="225.96" y2="187.08" stroke="#111" stroke-width="1.45"/>
<text x="177.51" y="175.56" font-size="13.9" font-weight="normal" stroke="#000" stroke-width="0.5" textLength="29.18" lengthAdjust="spacing">26%</text>
<path d="M240.42,210.02 L240.42,182.23 L240.96,180.16 L241.50,179.21 L242.04,179.95 L242.84,178.30 L243.65,176.77 L245.27,176.92 L245.81,178.58 L246.34,179.06 L246.88,181.21 L247.28,180.77 L247.69,182.66 L248.09,183.62 L248.50,186.17 L248.91,187.61 L249.31,187.92 L249.72,190.20 L250.12,189.10 L250.44,192.09 L250.76,192.20 L251.09,193.31 L251.41,195.64 L251.73,195.60 L252.13,196.66 L252.54,198.58 L252.94,200.67 L253.35,202.05 L253.89,203.57 L254.42,203.28 L254.96,205.28 L256.17,206.99 L257.38,207.73 L258.46,205.91 L259.54,206.57 L260.62,206.42 L261.70,208.07 L262.77,208.33 L263.85,208.93 L264.93,208.90 L266.00,209.51 L267.08,209.09 L268.16,209.55 L269.23,209.28 L270.31,209.06 L271.39,208.70 L272.46,208.67 L273.54,208.06 L274.62,208.81 L275.69,208.24 L276.77,205.23 L277.85,206.02 L278.92,204.31 L280.00,205.45 L281.08,202.81 L282.15,204.47 L283.23,201.58 L284.31,201.69 L285.38,200.00 L286.46,200.96 L287.54,201.84 L288.61,202.47 L289.69,200.58 L290.77,201.29 L291.84,201.84 L292.92,201.68 L293.73,202.48 L294.54,203.62 L295.35,205.28 L296.16,204.80 L296.96,207.80 L297.77,205.99 L298.85,207.39 L299.92,208.80 L301.00,209.17 L302.21,209.56 L303.43,209.64 L304.64,209.72 L305.85,209.96 L307.14,209.84 L308.43,210.02 L309.73,209.90 L311.02,209.70 L312.31,210.02 L312.31,210.02 Z" fill="#c8c8c8" stroke="none"/>
<path d="M240.42,193.54 L240.74,192.30 L241.07,189.90 L241.39,188.48 L241.72,186.42 L242.04,185.60 L242.58,183.17 L243.11,182.26 L243.65,181.18 L244.19,178.36 L244.73,176.98 L245.27,176.18 L246.07,173.77 L246.88,173.13 L247.69,171.03 L248.50,169.13 L249.06,167.46 L249.63,165.64 L250.06,168.14 L250.49,169.06 L250.92,170.46 L251.46,172.11 L252.00,174.05 L252.54,175.49 L252.94,177.18 L253.34,179.37 L253.75,180.58 L254.15,182.58 L254.56,183.55 L254.96,185.96 L255.37,187.31 L255.77,188.82 L256.17,190.30 L256.57,192.26 L256.98,193.08 L257.38,194.84 L257.78,196.85 L258.19,197.77 L258.60,200.12 L259.00,201.52 L259.54,202.41 L260.08,204.00 L260.62,205.07 L261.16,206.53 L261.69,208.64 L262.23,210.02" fill="none" stroke="#000" stroke-width="1.25" stroke-linejoin="round"/>
<path d="M240.42,182.23 L240.96,180.16 L241.50,179.21 L242.04,179.95 L242.84,178.30 L243.65,176.77 L245.27,176.92 L245.81,178.58 L246.34,179.06 L246.88,181.21 L247.28,180.77 L247.69,182.66 L248.09,183.62 L248.50,186.17 L248.91,187.61 L249.31,187.92 L249.72,190.20 L250.12,189.10 L250.44,192.09 L250.76,192.20 L251.09,193.31 L251.41,195.64 L251.73,195.60 L252.13,196.66 L252.54,198.58 L252.94,200.67 L253.35,202.05 L253.89,203.57 L254.42,203.28 L254.96,205.28 L256.17,206.99 L257.38,207.73 L258.46,205.91 L259.54,206.57 L260.62,206.42 L261.70,208.07 L262.77,208.33 L263.85,208.93 L264.93,208.90 L266.00,209.51 L267.08,209.09 L268.16,209.55 L269.23,209.28 L270.31,209.06 L271.39,208.70 L272.46,208.67 L273.54,208.06 L274.62,208.81 L275.69,208.24 L276.77,205.23 L277.85,206.02 L278.92,204.31 L280.00,205.45 L281.08,202.81 L282.15,204.47 L283.23,201.58 L284.31,201.69 L285.38,200.00 L286.46,200.96 L287.54,201.84 L288.61,202.47 L289.69,200.58 L290.77,201.29 L291.84,201.84 L292.92,201.68 L293.73,202.48 L294.54,203.62 L295.35,205.28 L296.16,204.80 L296.96,207.80 L297.77,205.99 L298.85,207.39 L299.92,208.80 L301.00,209.17 L302.21,209.56 L303.43,209.64 L304.64,209.72 L305.85,209.96 L307.14,209.84 L308.43,210.02 L309.73,209.90 L311.02,209.70 L312.31,210.02" fill="none" stroke="#000" stroke-width="1.5" stroke-linejoin="round"/>
<line x1="240.42" y1="164.14" x2="240.42" y2="210.02" stroke="#333" stroke-width="1.15"/>
<line x1="240.42" y1="210.02" x2="315.41999999999996" y2="210.02" stroke="#555" stroke-width="0.8"/>
<rect x="239.12" y="212.22" width="2.6" height="1.5" fill="#444"/>
<rect x="257.72" y="212.22" width="2.6" height="1.5" fill="#444"/>
<rect x="276.32" y="212.22" width="2.6" height="1.5" fill="#444"/>
<rect x="294.92" y="212.22" width="2.6" height="1.5" fill="#444"/>
<rect x="313.52" y="212.22" width="2.6" height="1.5" fill="#444"/>
<line x1="257.38" y1="187.4" x2="316.83" y2="187.4" stroke="#111" stroke-width="1.45"/>
<text x="269.51" y="175.56" font-size="13.9" font-weight="normal" stroke="#000" stroke-width="0.5" textLength="29.18" lengthAdjust="spacing">25%</text>
<path d="M331.62,210.02 L331.62,206.46 L332.43,205.79 L333.23,203.80 L334.04,203.02 L334.85,202.23 L335.65,199.86 L336.46,199.99 L337.00,200.19 L337.54,197.65 L338.08,197.71 L338.48,196.85 L338.88,193.00 L339.29,191.77 L339.69,191.74 L340.50,192.00 L341.31,189.37 L342.12,189.77 L342.92,188.85 L344.54,186.61 L345.35,188.59 L346.15,189.90 L346.69,189.62 L347.23,190.62 L347.77,193.20 L348.31,193.25 L348.84,195.42 L349.38,195.34 L350.19,195.98 L351.00,198.03 L351.54,200.26 L352.08,200.12 L352.62,201.75 L353.43,203.60 L354.23,203.42 L355.44,205.87 L356.65,204.36 L357.87,205.92 L359.08,205.74 L360.69,205.54 L362.31,207.58 L363.93,205.52 L365.54,207.24 L366.62,206.11 L367.69,207.17 L368.77,206.73 L369.85,204.03 L370.92,206.38 L372.00,205.02 L373.62,205.64 L375.23,204.07 L376.44,206.02 L377.65,206.27 L378.87,207.36 L380.08,206.73 L381.29,205.58 L382.50,207.70 L383.71,208.19 L384.92,208.62 L386.13,209.67 L387.35,210.02 L387.35,210.02 Z" fill="#c8c8c8" stroke="none"/>
<path d="M331.62,190.31 L332.26,188.05 L332.91,187.20 L334.04,185.63 L334.61,184.47 L335.17,181.77 L335.60,183.18 L336.03,185.17 L336.46,186.25 L337.11,188.07 L337.75,188.21 L338.13,190.53 L338.50,191.52 L338.88,194.14 L339.26,194.97 L339.64,196.65 L340.02,198.39 L340.45,200.33 L340.88,201.55 L341.31,202.59 L341.85,203.51 L342.38,205.29 L342.92,206.99 L343.73,207.87 L344.54,209.25 L346.15,210.02" fill="none" stroke="#000" stroke-width="1.25" stroke-linejoin="round"/>
<path d="M331.62,206.46 L332.43,205.79 L333.23,203.80 L334.04,203.02 L334.85,202.23 L335.65,199.86 L336.46,199.99 L337.00,200.19 L337.54,197.65 L338.08,197.71 L338.48,196.85 L338.88,193.00 L339.29,191.77 L339.69,191.74 L340.50,192.00 L341.31,189.37 L342.12,189.77 L342.92,188.85 L344.54,186.61 L345.35,188.59 L346.15,189.90 L346.69,189.62 L347.23,190.62 L347.77,193.20 L348.31,193.25 L348.84,195.42 L349.38,195.34 L350.19,195.98 L351.00,198.03 L351.54,200.26 L352.08,200.12 L352.62,201.75 L353.43,203.60 L354.23,203.42 L355.44,205.87 L356.65,204.36 L357.87,205.92 L359.08,205.74 L360.69,205.54 L362.31,207.58 L363.93,205.52 L365.54,207.24 L366.62,206.11 L367.69,207.17 L368.77,206.73 L369.85,204.03 L370.92,206.38 L372.00,205.02 L373.62,205.64 L375.23,204.07 L376.44,206.02 L377.65,206.27 L378.87,207.36 L380.08,206.73 L381.29,205.58 L382.50,207.70 L383.71,208.19 L384.92,208.62 L386.13,209.67 L387.35,210.02" fill="none" stroke="#000" stroke-width="1.5" stroke-linejoin="round"/>
<line x1="331.62" y1="164.46" x2="331.62" y2="210.02" stroke="#333" stroke-width="1.15"/>
<line x1="331.62" y1="210.02" x2="406.62" y2="210.02" stroke="#555" stroke-width="0.8"/>
<rect x="330.32" y="212.22" width="2.6" height="1.5" fill="#444"/>
<rect x="348.92" y="212.22" width="2.6" height="1.5" fill="#444"/>
<rect x="367.52" y="212.22" width="2.6" height="1.5" fill="#444"/>
<rect x="386.12" y="212.22" width="2.6" height="1.5" fill="#444"/>
<rect x="404.72" y="212.22" width="2.6" height="1.5" fill="#444"/>
<line x1="348.58" y1="187.4" x2="405.92" y2="187.4" stroke="#111" stroke-width="1.45"/>
<text x="359.89" y="175.56" font-size="13.9" font-weight="normal" stroke="#000" stroke-width="0.5" textLength="28.86" lengthAdjust="spacing">46%</text>
<path d="M425.23,210.02 L425.23,204.85 L425.77,204.00 L426.31,201.84 L426.85,202.92 L427.65,201.59 L428.46,199.10 L429.27,198.84 L430.08,196.78 L430.88,195.99 L431.69,195.37 L432.50,195.69 L433.31,193.54 L434.12,194.86 L434.92,191.53 L435.73,193.08 L436.54,194.00 L437.08,196.98 L437.61,196.93 L438.15,198.30 L438.69,198.97 L439.23,200.92 L439.77,201.35 L440.57,202.01 L441.38,203.84 L442.60,204.30 L443.81,204.56 L445.02,206.96 L446.23,206.96 L447.85,206.92 L449.46,207.53 L451.07,206.17 L452.69,206.12 L454.31,206.08 L455.92,205.87 L457.00,206.45 L458.07,204.43 L459.15,205.55 L460.23,205.48 L461.30,204.68 L462.38,203.51 L463.46,205.15 L464.54,202.94 L465.62,204.22 L466.83,202.26 L468.04,201.12 L469.25,200.72 L470.46,199.59 L471.67,199.02 L472.88,199.71 L474.50,199.02 L475.31,198.97 L476.12,200.75 L476.93,200.90 L477.73,201.62 L478.54,203.48 L479.34,202.70 L480.15,205.08 L480.96,205.38 L481.77,206.17 L482.58,205.08 L483.39,206.10 L484.19,207.75 L485.00,208.77 L486.08,209.57 L487.15,209.90 L488.23,210.02 L488.23,210.02 Z" fill="#c8c8c8" stroke="none"/>
<path d="M425.23,198.38 L425.55,197.24 L425.88,194.62 L426.20,193.83 L426.53,192.31 L426.85,190.74 L427.25,189.10 L427.65,186.58 L428.06,185.02 L428.46,184.26 L429.00,182.57 L429.54,181.17 L430.08,178.93 L430.62,177.93 L431.15,175.26 L431.69,174.79 L432.50,173.07 L433.31,170.69 L434.12,171.93 L434.92,174.22 L435.33,176.03 L435.73,177.18 L436.13,178.38 L436.54,180.31 L436.86,182.69 L437.18,183.27 L437.51,186.07 L437.83,186.73 L438.15,188.28 L438.41,189.76 L438.67,192.60 L438.93,194.10 L439.19,194.90 L439.45,196.20 L439.73,198.60 L440.01,200.54 L440.30,200.93 L440.58,203.42 L441.12,205.35 L441.65,206.41 L442.19,208.10 L443.00,209.16 L443.81,210.02" fill="none" stroke="#000" stroke-width="1.25" stroke-linejoin="round"/>
<path d="M425.23,204.85 L425.77,204.00 L426.31,201.84 L426.85,202.92 L427.65,201.59 L428.46,199.10 L429.27,198.84 L430.08,196.78 L430.88,195.99 L431.69,195.37 L432.50,195.69 L433.31,193.54 L434.12,194.86 L434.92,191.53 L435.73,193.08 L436.54,194.00 L437.08,196.98 L437.61,196.93 L438.15,198.30 L438.69,198.97 L439.23,200.92 L439.77,201.35 L440.57,202.01 L441.38,203.84 L442.60,204.30 L443.81,204.56 L445.02,206.96 L446.23,206.96 L447.85,206.92 L449.46,207.53 L451.07,206.17 L452.69,206.12 L454.31,206.08 L455.92,205.87 L457.00,206.45 L458.07,204.43 L459.15,205.55 L460.23,205.48 L461.30,204.68 L462.38,203.51 L463.46,205.15 L464.54,202.94 L465.62,204.22 L466.83,202.26 L468.04,201.12 L469.25,200.72 L470.46,199.59 L471.67,199.02 L472.88,199.71 L474.50,199.02 L475.31,198.97 L476.12,200.75 L476.93,200.90 L477.73,201.62 L478.54,203.48 L479.34,202.70 L480.15,205.08 L480.96,205.38 L481.77,206.17 L482.58,205.08 L483.39,206.10 L484.19,207.75 L485.00,208.77 L486.08,209.57 L487.15,209.90 L488.23,210.02" fill="none" stroke="#000" stroke-width="1.5" stroke-linejoin="round"/>
<line x1="425.23" y1="164.46" x2="425.23" y2="210.02" stroke="#333" stroke-width="1.15"/>
<line x1="425.23" y1="210.02" x2="500.23" y2="210.02" stroke="#555" stroke-width="0.8"/>
<rect x="423.93" y="212.22" width="2.6" height="1.5" fill="#444"/>
<rect x="442.53" y="212.22" width="2.6" height="1.5" fill="#444"/>
<rect x="461.13" y="212.22" width="2.6" height="1.5" fill="#444"/>
<rect x="479.73" y="212.22" width="2.6" height="1.5" fill="#444"/>
<rect x="498.33" y="212.22" width="2.6" height="1.5" fill="#444"/>
<line x1="442.19" y1="187.4" x2="500.35" y2="187.4" stroke="#111" stroke-width="1.45"/>
<text x="454.32" y="175.56" font-size="13.9" font-weight="normal" stroke="#000" stroke-width="0.5" textLength="29.34" lengthAdjust="spacing">50%</text>
<path d="M56.42,271.69 L56.42,265.23 L56.96,263.12 L57.50,263.96 L58.04,263.07 L58.84,260.47 L59.65,258.95 L60.86,258.32 L62.08,257.60 L63.29,258.13 L64.50,258.26 L65.71,259.76 L66.92,257.58 L68.13,257.74 L69.35,259.97 L70.56,260.10 L71.77,257.98 L72.98,258.43 L74.19,260.14 L75.41,258.46 L76.62,259.13 L77.83,259.47 L79.04,259.50 L80.25,258.09 L81.46,260.20 L82.67,260.46 L83.88,259.43 L85.09,259.55 L86.31,261.00 L87.52,262.40 L88.73,262.92 L89.94,261.41 L91.15,263.54 L92.37,263.59 L93.58,265.78 L94.79,266.55 L96.00,266.00 L97.21,267.97 L98.42,268.73 L99.63,267.37 L100.85,269.01 L102.06,270.39 L103.27,270.69 L104.48,271.24 L105.69,271.69 L105.69,271.69 Z" fill="#c8c8c8" stroke="none"/>
<path d="M56.42,260.38 L56.83,258.95 L57.23,256.94 L57.63,255.93 L58.04,253.48 L58.44,252.44 L58.84,250.76 L59.25,248.41 L59.65,247.87 L60.19,246.25 L60.73,244.73 L61.27,242.19 L61.81,241.32 L62.34,239.44 L62.88,238.91 L63.69,237.53 L64.50,236.70 L65.31,234.68 L66.12,233.87 L66.93,234.99 L67.73,237.56 L68.14,238.58 L68.54,239.29 L68.94,241.54 L69.35,242.54 L69.55,244.10 L69.75,246.25 L69.95,247.79 L70.15,249.06 L70.35,250.40 L70.56,252.15 L70.76,253.77 L70.96,255.10 L71.16,256.70 L71.36,258.85 L71.57,261.04 L71.77,262.12 L72.04,263.48 L72.31,264.58 L72.58,267.44 L73.14,268.21 L73.71,270.01 L75.00,271.69" fill="none" stroke="#000" stroke-width="1.25" stroke-linejoin="round"/>
<path d="M56.42,265.23 L56.96,263.12 L57.50,263.96 L58.04,263.07 L58.84,260.47 L59.65,258.95 L60.86,258.32 L62.08,257.60 L63.29,258.13 L64.50,258.26 L65.71,259.76 L66.92,257.58 L68.13,257.74 L69.35,259.97 L70.56,260.10 L71.77,257.98 L72.98,258.43 L74.19,260.14 L75.41,258.46 L76.62,259.13 L77.83,259.47 L79.04,259.50 L80.25,258.09 L81.46,260.20 L82.67,260.46 L83.88,259.43 L85.09,259.55 L86.31,261.00 L87.52,262.40 L88.73,262.92 L89.94,261.41 L91.15,263.54 L92.37,263.59 L93.58,265.78 L94.79,266.55 L96.00,266.00 L97.21,267.97 L98.42,268.73 L99.63,267.37 L100.85,269.01 L102.06,270.39 L103.27,270.69 L104.48,271.24 L105.69,271.69" fill="none" stroke="#000" stroke-width="1.5" stroke-linejoin="round"/>
<line x1="56.42" y1="226.14" x2="56.42" y2="271.69" stroke="#333" stroke-width="1.15"/>
<line x1="56.42" y1="271.69" x2="131.42000000000002" y2="271.69" stroke="#555" stroke-width="0.8"/>
<rect x="55.12" y="273.89" width="2.6" height="1.5" fill="#444"/>
<rect x="73.72" y="273.89" width="2.6" height="1.5" fill="#444"/>
<rect x="92.32" y="273.89" width="2.6" height="1.5" fill="#444"/>
<rect x="110.92" y="273.89" width="2.6" height="1.5" fill="#444"/>
<rect x="129.52" y="273.89" width="2.6" height="1.5" fill="#444"/>
<line x1="74.19" y1="249.88" x2="132.35" y2="249.88" stroke="#111" stroke-width="1.45"/>
<line x1="129.92" y1="260.38" x2="129.92" y2="271.69" stroke="#000" stroke-width="1"/>
<text x="85.18" y="241.60" font-size="13.9" font-weight="normal" stroke="#000" stroke-width="0.5" textLength="29.19" lengthAdjust="spacing">51%</text>
<path d="M149.23,272.02 L149.23,258.77 L150.04,258.67 L150.85,255.50 L151.66,254.46 L152.46,253.64 L154.08,254.63 L155.69,254.12 L156.33,255.30 L156.98,255.23 L157.55,256.33 L158.12,257.67 L158.66,258.18 L159.19,259.43 L159.73,259.38 L160.27,260.18 L160.81,263.57 L161.35,264.46 L162.16,266.13 L162.96,266.71 L164.58,267.09 L165.79,266.15 L167.00,268.36 L168.62,267.57 L170.23,268.68 L171.84,268.60 L173.46,268.78 L175.07,268.18 L176.69,268.49 L177.91,267.45 L179.12,268.25 L180.33,268.13 L181.54,268.77 L182.62,270.06 L183.69,270.09 L184.77,269.87 L185.85,269.82 L186.92,269.06 L188.00,270.32 L189.08,270.28 L190.15,270.52 L191.23,271.13 L192.31,271.03 L193.38,271.35 L194.46,271.15 L195.67,271.63 L196.88,271.85 L198.10,271.69 L199.31,271.93 L200.52,271.82 L201.73,272.01 L202.94,271.90 L204.15,272.02 L204.15,272.02 Z" fill="#c8c8c8" stroke="none"/>
<path d="M149.23,257.15 L149.55,255.27 L149.88,254.53 L150.20,252.52 L150.52,251.29 L151.06,248.84 L151.60,247.12 L152.14,245.91 L152.94,244.36 L153.75,242.00 L154.31,240.41 L154.88,239.52 L155.45,239.93 L156.02,241.30 L156.67,243.65 L157.31,244.87 L157.74,246.14 L158.17,246.63 L158.60,248.93 L158.98,249.44 L159.35,251.40 L159.73,252.02 L160.11,254.55 L160.48,255.08 L160.86,256.54 L161.29,258.07 L161.72,259.99 L162.15,260.59 L162.96,263.04 L163.77,264.87 L164.57,266.06 L165.38,267.32 L167.00,267.65" fill="none" stroke="#000" stroke-width="1.25" stroke-linejoin="round"/>
<path d="M149.23,258.77 L150.04,258.67 L150.85,255.50 L151.66,254.46 L152.46,253.64 L154.08,254.63 L155.69,254.12 L156.33,255.30 L156.98,255.23 L157.55,256.33 L158.12,257.67 L158.66,258.18 L159.19,259.43 L159.73,259.38 L160.27,260.18 L160.81,263.57 L161.35,264.46 L162.16,266.13 L162.96,266.71 L164.58,267.09 L165.79,266.15 L167.00,268.36 L168.62,267.57 L170.23,268.68 L171.84,268.60 L173.46,268.78 L175.07,268.18 L176.69,268.49 L177.91,267.45 L179.12,268.25 L180.33,268.13 L181.54,268.77 L182.62,270.06 L183.69,270.09 L184.77,269.87 L185.85,269.82 L186.92,269.06 L188.00,270.32 L189.08,270.28 L190.15,270.52 L191.23,271.13 L192.31,271.03 L193.38,271.35 L194.46,271.15 L195.67,271.63 L196.88,271.85 L198.10,271.69 L199.31,271.93 L200.52,271.82 L201.73,272.01 L202.94,271.90 L204.15,272.02" fill="none" stroke="#000" stroke-width="1.5" stroke-linejoin="round"/>
<line x1="149.23" y1="226.14" x2="149.23" y2="272.02" stroke="#333" stroke-width="1.15"/>
<line x1="149.23" y1="272.02" x2="224.23" y2="272.02" stroke="#555" stroke-width="0.8"/>
<rect x="147.93" y="274.22" width="2.6" height="1.5" fill="#444"/>
<rect x="166.53" y="274.22" width="2.6" height="1.5" fill="#444"/>
<rect x="185.13" y="274.22" width="2.6" height="1.5" fill="#444"/>
<rect x="203.73" y="274.22" width="2.6" height="1.5" fill="#444"/>
<rect x="222.33" y="274.22" width="2.6" height="1.5" fill="#444"/>
<line x1="166.19" y1="249.88" x2="225.96" y2="249.88" stroke="#111" stroke-width="1.45"/>
<line x1="222.73" y1="260.38" x2="222.73" y2="272.02" stroke="#000" stroke-width="1"/>
<text x="177.18" y="241.60" font-size="13.9" font-weight="normal" stroke="#000" stroke-width="0.5" textLength="29.51" lengthAdjust="spacing">22%</text>
<path d="M240.42,271.69 L240.42,258.77 L240.82,257.59 L241.23,256.62 L241.63,254.58 L242.04,255.12 L242.84,253.35 L243.65,252.23 L244.78,250.57 L245.43,252.44 L246.08,252.96 L246.88,253.78 L247.69,253.63 L248.23,255.67 L248.77,258.20 L249.31,258.12 L249.85,258.70 L250.38,260.47 L250.92,260.19 L251.73,261.79 L252.54,264.13 L253.35,264.34 L254.16,264.91 L254.96,267.37 L255.77,266.91 L256.85,266.98 L257.92,266.21 L259.00,267.92 L260.62,267.63 L262.23,267.04 L263.31,268.59 L264.38,267.46 L265.46,266.96 L266.54,267.59 L267.61,266.02 L268.69,267.38 L270.31,266.56 L271.92,265.71 L273.00,266.19 L274.07,267.89 L275.15,267.15 L276.23,266.02 L277.30,268.91 L278.38,268.22 L279.60,268.30 L280.81,269.23 L282.02,269.87 L283.23,271.00 L284.31,271.23 L285.38,271.39 L286.46,271.69 L286.46,271.69 Z" fill="#c8c8c8" stroke="none"/>
<path d="M240.42,260.38 L240.82,258.74 L241.23,256.92 L241.63,255.80 L242.04,254.39 L242.58,251.68 L243.11,250.88 L243.65,249.51 L244.19,248.15 L244.73,246.23 L245.27,244.86 L245.81,242.81 L246.34,241.48 L246.88,239.71 L247.69,237.42 L248.50,236.45 L249.31,234.70 L250.12,232.97 L250.93,234.17 L251.73,236.77 L252.27,238.20 L252.81,239.78 L253.35,240.64 L253.67,242.15 L253.99,243.79 L254.32,245.68 L254.64,247.24 L254.96,249.42 L255.24,250.55 L255.52,253.00 L255.81,253.30 L256.09,255.40 L256.41,257.68 L256.74,258.77 L257.06,260.63 L257.38,262.49 L257.78,263.80 L258.19,264.77 L258.60,266.22 L259.00,269.13 L259.81,270.04 L260.62,271.69" fill="none" stroke="#000" stroke-width="1.25" stroke-linejoin="round"/>
<path d="M240.42,258.77 L240.82,257.59 L241.23,256.62 L241.63,254.58 L242.04,255.12 L242.84,253.35 L243.65,252.23 L244.78,250.57 L245.43,252.44 L246.08,252.96 L246.88,253.78 L247.69,253.63 L248.23,255.67 L248.77,258.20 L249.31,258.12 L249.85,258.70 L250.38,260.47 L250.92,260.19 L251.73,261.79 L252.54,264.13 L253.35,264.34 L254.16,264.91 L254.96,267.37 L255.77,266.91 L256.85,266.98 L257.92,266.21 L259.00,267.92 L260.62,267.63 L262.23,267.04 L263.31,268.59 L264.38,267.46 L265.46,266.96 L266.54,267.59 L267.61,266.02 L268.69,267.38 L270.31,266.56 L271.92,265.71 L273.00,266.19 L274.07,267.89 L275.15,267.15 L276.23,266.02 L277.30,268.91 L278.38,268.22 L279.60,268.30 L280.81,269.23 L282.02,269.87 L283.23,271.00 L284.31,271.23 L285.38,271.39 L286.46,271.69" fill="none" stroke="#000" stroke-width="1.5" stroke-linejoin="round"/>
<line x1="239.94" y1="226.14" x2="239.94" y2="271.69" stroke="#333" stroke-width="1.15"/>
<line x1="239.94" y1="271.69" x2="314.94" y2="271.69" stroke="#555" stroke-width="0.8"/>
<rect x="238.64" y="273.89" width="2.6" height="1.5" fill="#444"/>
<rect x="257.24" y="273.89" width="2.6" height="1.5" fill="#444"/>
<rect x="275.84" y="273.89" width="2.6" height="1.5" fill="#444"/>
<rect x="294.44" y="273.89" width="2.6" height="1.5" fill="#444"/>
<rect x="313.04" y="273.89" width="2.6" height="1.5" fill="#444"/>
<line x1="257.38" y1="249.88" x2="316.83" y2="249.88" stroke="#111" stroke-width="1.45"/>
<line x1="312.95" y1="266.85" x2="312.95" y2="271.69" stroke="#000" stroke-width="1"/>
<text x="269.51" y="241.60" font-size="13.9" font-weight="normal" stroke="#000" stroke-width="0.5" textLength="29.18" lengthAdjust="spacing">21%</text>
<path d="M331.29,272.02 L331.29,268.46 L331.94,267.62 L332.58,267.10 L333.23,264.59 L333.77,265.23 L334.31,264.16 L334.85,263.27 L335.39,261.29 L335.92,259.37 L336.46,259.67 L337.27,256.47 L338.08,256.49 L338.88,254.12 L339.69,254.73 L340.50,253.30 L341.31,253.10 L342.92,250.49 L344.22,251.33 L344.70,252.73 L345.19,252.09 L345.67,253.22 L346.15,254.36 L346.69,255.95 L347.23,258.34 L347.77,257.63 L348.57,261.20 L349.38,260.97 L350.19,261.68 L351.00,262.71 L351.81,263.30 L352.61,265.19 L353.42,264.79 L354.63,266.78 L355.85,266.37 L356.93,265.59 L358.00,266.26 L359.08,266.38 L360.16,266.74 L361.23,264.38 L362.31,265.24 L363.52,263.83 L364.73,265.58 L365.94,263.87 L367.15,265.08 L368.37,266.41 L369.58,267.54 L370.79,267.21 L372.00,269.56 L373.08,268.89 L374.15,270.36 L375.23,270.76 L376.31,271.16 L377.38,271.76 L378.46,272.02 L378.46,272.02 Z" fill="#c8c8c8" stroke="none"/>
<path d="M331.29,257.15 L331.57,255.56 L331.86,253.76 L332.14,252.55 L332.42,251.04 L332.99,248.79 L333.55,247.79 L334.20,246.73 L334.85,246.43 L335.50,247.52 L336.14,248.50 L337.27,250.05 L337.83,251.02 L338.40,252.69 L338.83,255.07 L339.26,255.62 L339.69,256.70 L340.12,258.27 L340.55,260.40 L340.98,262.09 L341.36,263.17 L341.74,264.36 L342.12,265.88 L342.69,268.16 L343.25,269.00 L343.89,270.55 L344.54,272.02" fill="none" stroke="#000" stroke-width="1.25" stroke-linejoin="round"/>
<path d="M331.29,268.46 L331.94,267.62 L332.58,267.10 L333.23,264.59 L333.77,265.23 L334.31,264.16 L334.85,263.27 L335.39,261.29 L335.92,259.37 L336.46,259.67 L337.27,256.47 L338.08,256.49 L338.88,254.12 L339.69,254.73 L340.50,253.30 L341.31,253.10 L342.92,250.49 L344.22,251.33 L344.70,252.73 L345.19,252.09 L345.67,253.22 L346.15,254.36 L346.69,255.95 L347.23,258.34 L347.77,257.63 L348.57,261.20 L349.38,260.97 L350.19,261.68 L351.00,262.71 L351.81,263.30 L352.61,265.19 L353.42,264.79 L354.63,266.78 L355.85,266.37 L356.93,265.59 L358.00,266.26 L359.08,266.38 L360.16,266.74 L361.23,264.38 L362.31,265.24 L363.52,263.83 L364.73,265.58 L365.94,263.87 L367.15,265.08 L368.37,266.41 L369.58,267.54 L370.79,267.21 L372.00,269.56 L373.08,268.89 L374.15,270.36 L375.23,270.76 L376.31,271.16 L377.38,271.76 L378.46,272.02" fill="none" stroke="#000" stroke-width="1.5" stroke-linejoin="round"/>
<line x1="331.29" y1="226.14" x2="331.29" y2="272.02" stroke="#333" stroke-width="1.15"/>
<line x1="331.29" y1="272.02" x2="406.29" y2="272.02" stroke="#555" stroke-width="0.8"/>
<rect x="329.99" y="274.22" width="2.6" height="1.5" fill="#444"/>
<rect x="348.59" y="274.22" width="2.6" height="1.5" fill="#444"/>
<rect x="367.19" y="274.22" width="2.6" height="1.5" fill="#444"/>
<rect x="385.79" y="274.22" width="2.6" height="1.5" fill="#444"/>
<rect x="404.39" y="274.22" width="2.6" height="1.5" fill="#444"/>
<line x1="347.45" y1="249.88" x2="405.6" y2="249.88" stroke="#111" stroke-width="1.45"/>
<line x1="403.98" y1="266.04" x2="403.98" y2="272.02" stroke="#000" stroke-width="1"/>
<text x="359.89" y="241.60" font-size="13.9" font-weight="normal" stroke="#000" stroke-width="0.5" textLength="28.54" lengthAdjust="spacing">40%</text>
<path d="M424.42,272.02 L424.42,266.85 L424.96,265.99 L425.50,264.78 L426.04,263.43 L426.85,263.15 L427.65,260.97 L428.87,259.38 L430.08,259.96 L431.29,257.50 L432.50,259.35 L434.12,259.34 L435.73,258.33 L437.35,257.92 L438.15,260.88 L438.96,261.18 L440.58,261.53 L442.19,261.74 L443.81,263.70 L445.42,264.40 L446.23,261.45 L447.04,262.42 L448.65,261.65 L449.46,262.09 L450.27,259.07 L451.88,260.39 L453.50,257.87 L455.12,259.04 L456.73,260.05 L458.35,259.61 L459.96,259.55 L461.58,260.50 L462.39,263.05 L463.19,263.28 L464.00,264.31 L464.81,265.30 L465.61,264.57 L466.42,266.43 L467.23,265.62 L468.04,267.75 L468.85,268.58 L469.66,267.93 L470.46,270.09 L471.27,270.98 L472.48,271.27 L473.69,272.02 L473.69,272.02 Z" fill="#c8c8c8" stroke="none"/>
<path d="M424.42,260.38 L424.74,258.54 L425.07,257.48 L425.39,256.11 L425.72,253.43 L426.04,251.62 L426.44,250.95 L426.85,249.03 L427.25,246.89 L427.65,246.50 L428.19,243.85 L428.73,242.80 L429.27,240.57 L429.81,240.02 L430.34,237.72 L430.88,235.79 L431.45,234.98 L432.02,232.65 L433.31,231.61 L433.85,233.33 L434.38,235.42 L434.92,235.66 L435.46,238.19 L436.00,239.34 L436.54,241.62 L436.94,242.60 L437.35,244.03 L437.75,246.19 L438.15,247.53 L438.47,248.47 L438.80,251.11 L439.12,252.74 L439.45,254.45 L439.73,256.11 L440.01,257.12 L440.30,258.34 L440.58,260.83 L440.86,262.12 L441.14,263.03 L441.43,265.22 L441.71,266.22 L442.14,268.31 L442.57,269.09 L443.00,270.95 L444.62,272.02" fill="none" stroke="#000" stroke-width="1.25" stroke-linejoin="round"/>
<path d="M424.42,266.85 L424.96,265.99 L425.50,264.78 L426.04,263.43 L426.85,263.15 L427.65,260.97 L428.87,259.38 L430.08,259.96 L431.29,257.50 L432.50,259.35 L434.12,259.34 L435.73,258.33 L437.35,257.92 L438.15,260.88 L438.96,261.18 L440.58,261.53 L442.19,261.74 L443.81,263.70 L445.42,264.40 L446.23,261.45 L447.04,262.42 L448.65,261.65 L449.46,262.09 L450.27,259.07 L451.88,260.39 L453.50,257.87 L455.12,259.04 L456.73,260.05 L458.35,259.61 L459.96,259.55 L461.58,260.50 L462.39,263.05 L463.19,263.28 L464.00,264.31 L464.81,265.30 L465.61,264.57 L466.42,266.43 L467.23,265.62 L468.04,267.75 L468.85,268.58 L469.66,267.93 L470.46,270.09 L471.27,270.98 L472.48,271.27 L473.69,272.02" fill="none" stroke="#000" stroke-width="1.5" stroke-linejoin="round"/>
<line x1="424.42" y1="226.14" x2="424.42" y2="272.02" stroke="#333" stroke-width="1.15"/>
<line x1="424.42" y1="272.02" x2="499.42" y2="272.02" stroke="#555" stroke-width="0.8"/>
<rect x="423.12" y="274.22" width="2.6" height="1.5" fill="#444"/>
<rect x="441.72" y="274.22" width="2.6" height="1.5" fill="#444"/>
<rect x="460.32" y="274.22" width="2.6" height="1.5" fill="#444"/>
<rect x="478.92" y="274.22" width="2.6" height="1.5" fill="#444"/>
<rect x="497.52" y="274.22" width="2.6" height="1.5" fill="#444"/>
<line x1="442.19" y1="249.88" x2="500.35" y2="249.88" stroke="#111" stroke-width="1.45"/>
<line x1="497.92" y1="260.38" x2="497.92" y2="272.02" stroke="#000" stroke-width="1"/>
<text x="454.32" y="241.60" font-size="13.9" font-weight="normal" stroke="#000" stroke-width="0.5" textLength="29.34" lengthAdjust="spacing">56%</text>
<text x="0.00" y="317.50" font-size="32" font-weight="bold" text-anchor="start" textLength="22.40" lengthAdjust="spacingAndGlyphs" >B</text>
<line x1="60.30" y1="346.90" x2="60.30" y2="512.30" stroke="#000" stroke-width="1.1"/>
<line x1="56.80" y1="479.22" x2="60.30" y2="479.22" stroke="#000" stroke-width="1.1"/>
<line x1="56.80" y1="446.14" x2="60.30" y2="446.14" stroke="#000" stroke-width="1.1"/>
<line x1="56.80" y1="413.06" x2="60.30" y2="413.06" stroke="#000" stroke-width="1.1"/>
<line x1="56.80" y1="379.98" x2="60.30" y2="379.98" stroke="#000" stroke-width="1.1"/>
<line x1="56.80" y1="346.90" x2="60.30" y2="346.90" stroke="#000" stroke-width="1.1"/>
<line x1="56.30" y1="512.30" x2="221.00" y2="512.30" stroke="#000" stroke-width="1.1"/>
<text x="36.20" y="516.70" font-size="12.5" font-weight="bold" text-anchor="start" textLength="6.70" lengthAdjust="spacingAndGlyphs" >0</text>
<text x="36.20" y="487.20" font-size="12.5" font-weight="bold" text-anchor="start" textLength="6.70" lengthAdjust="spacingAndGlyphs" >5</text>
<text x="36.20" y="453.10" font-size="12.5" font-weight="bold" text-anchor="start" textLength="13.30" lengthAdjust="spacingAndGlyphs" >10</text>
<text x="36.20" y="419.90" font-size="12.5" font-weight="bold" text-anchor="start" textLength="13.30" lengthAdjust="spacingAndGlyphs" >15</text>
<text x="36.20" y="386.70" font-size="12.5" font-weight="bold" text-anchor="start" textLength="13.30" lengthAdjust="spacingAndGlyphs" >20</text>
<text x="36.20" y="353.10" font-size="12.5" font-weight="bold" text-anchor="start" textLength="13.30" lengthAdjust="spacingAndGlyphs" >25</text>
<line x1="98.30" y1="512.30" x2="98.30" y2="515.80" stroke="#000" stroke-width="1.1"/>
<line x1="128.00" y1="512.30" x2="128.00" y2="515.80" stroke="#000" stroke-width="1.1"/>
<line x1="155.70" y1="512.30" x2="155.70" y2="515.80" stroke="#000" stroke-width="1.1"/>
<line x1="181.50" y1="512.30" x2="181.50" y2="515.80" stroke="#000" stroke-width="1.1"/>
<line x1="208.40" y1="512.30" x2="208.40" y2="515.80" stroke="#000" stroke-width="1.1"/>
<text x="85.52" y="537.60" font-size="13" font-weight="bold" text-anchor="start" textLength="24.70" lengthAdjust="spacingAndGlyphs" >6.25</text>
<text x="114.42" y="537.60" font-size="13" font-weight="bold" text-anchor="start" textLength="25.10" lengthAdjust="spacingAndGlyphs" >12.5</text>
<text x="147.62" y="537.60" font-size="13" font-weight="bold" text-anchor="start" textLength="14.50" lengthAdjust="spacingAndGlyphs" >25</text>
<text x="172.92" y="537.60" font-size="13" font-weight="bold" text-anchor="start" textLength="15.20" lengthAdjust="spacingAndGlyphs" >50</text>
<text x="197.52" y="537.60" font-size="13" font-weight="bold" text-anchor="start" textLength="20.90" lengthAdjust="spacingAndGlyphs" >100</text>
<text transform="translate(16.60,540.60) rotate(-90)" font-size="12.5" font-weight="normal" textLength="197.90" lengthAdjust="spacingAndGlyphs" stroke="#000" stroke-width="0.3">[3H]TdR Incorporation cpm (x10³)</text>
<line x1="100.00" y1="455.40" x2="100.00" y2="470.62" stroke="#333" stroke-width="1.0"/>
<line x1="98.25" y1="455.40" x2="101.75" y2="455.40" stroke="#333" stroke-width="1.0"/>
<line x1="98.25" y1="470.62" x2="101.75" y2="470.62" stroke="#333" stroke-width="1.0"/>
<line x1="100.00" y1="480.54" x2="100.00" y2="499.73" stroke="#333" stroke-width="1.0"/>
<line x1="98.25" y1="480.54" x2="101.75" y2="480.54" stroke="#333" stroke-width="1.0"/>
<line x1="98.25" y1="499.73" x2="101.75" y2="499.73" stroke="#333" stroke-width="1.0"/>
<line x1="126.90" y1="420.34" x2="126.90" y2="495.76" stroke="#333" stroke-width="1.0"/>
<line x1="125.15" y1="420.34" x2="128.65" y2="420.34" stroke="#333" stroke-width="1.0"/>
<line x1="125.15" y1="495.76" x2="128.65" y2="495.76" stroke="#333" stroke-width="1.0"/>
<line x1="153.50" y1="391.23" x2="153.50" y2="415.71" stroke="#333" stroke-width="1.0"/>
<line x1="151.75" y1="391.23" x2="155.25" y2="391.23" stroke="#333" stroke-width="1.0"/>
<line x1="151.75" y1="415.71" x2="155.25" y2="415.71" stroke="#333" stroke-width="1.0"/>
<line x1="153.50" y1="438.20" x2="153.50" y2="471.94" stroke="#333" stroke-width="1.0"/>
<line x1="151.75" y1="438.20" x2="155.25" y2="438.20" stroke="#333" stroke-width="1.0"/>
<line x1="151.75" y1="471.94" x2="155.25" y2="471.94" stroke="#333" stroke-width="1.0"/>
<line x1="181.30" y1="360.79" x2="181.30" y2="384.61" stroke="#333" stroke-width="1.0"/>
<line x1="179.55" y1="360.79" x2="183.05" y2="360.79" stroke="#333" stroke-width="1.0"/>
<line x1="179.55" y1="384.61" x2="183.05" y2="384.61" stroke="#333" stroke-width="1.0"/>
<line x1="181.30" y1="407.11" x2="181.30" y2="419.68" stroke="#333" stroke-width="1.0"/>
<line x1="179.55" y1="407.11" x2="183.05" y2="407.11" stroke="#333" stroke-width="1.0"/>
<line x1="179.55" y1="419.68" x2="183.05" y2="419.68" stroke="#333" stroke-width="1.0"/>
<line x1="181.30" y1="460.03" x2="181.30" y2="467.31" stroke="#333" stroke-width="1.0"/>
<line x1="179.55" y1="460.03" x2="183.05" y2="460.03" stroke="#333" stroke-width="1.0"/>
<line x1="179.55" y1="467.31" x2="183.05" y2="467.31" stroke="#333" stroke-width="1.0"/>
<path d="M100.00,463.34 L126.90,448.79 L153.50,407.11 L181.30,378.00 L207.30,366.75" fill="none" stroke="#000" stroke-width="1.3" />
<path d="M100.00,483.19 L126.90,472.60 L153.50,452.76 L181.30,414.38 L207.30,411.08" fill="none" stroke="#000" stroke-width="1.3" />
<path d="M100.00,489.81 L126.90,489.14 L153.50,465.99 L181.30,464.00 L207.30,458.71" fill="none" stroke="#000" stroke-width="1.3" />
<path d="M100.00,473.27 L126.90,450.77 L153.50,397.18 L181.30,370.06 L207.30,381.30" fill="none" stroke="#000" stroke-width="1.3" />
<path d="M100.00,459.71 L103.30,463.34 L100.00,466.97 L96.70,463.34 Z" fill="#000" stroke="none" stroke-width="1" />
<path d="M126.90,445.16 L130.20,448.79 L126.90,452.42 L123.60,448.79 Z" fill="#000" stroke="none" stroke-width="1" />
<path d="M153.50,403.48 L156.80,407.11 L153.50,410.74 L150.20,407.11 Z" fill="#000" stroke="none" stroke-width="1" />
<path d="M181.30,374.37 L184.60,378.00 L181.30,381.63 L178.00,378.00 Z" fill="#000" stroke="none" stroke-width="1" />
<path d="M207.30,363.12 L210.60,366.75 L207.30,370.38 L204.00,366.75 Z" fill="#000" stroke="none" stroke-width="1" />
<path d="M100.00,479.72 L103.47,485.83 L96.53,485.83 Z" fill="#000" stroke="none" stroke-width="1" />
<path d="M126.90,469.14 L130.37,475.24 L123.44,475.24 Z" fill="#000" stroke="none" stroke-width="1" />
<path d="M153.50,449.29 L156.97,455.40 L150.03,455.40 Z" fill="#000" stroke="none" stroke-width="1" />
<path d="M181.30,410.92 L184.77,417.02 L177.84,417.02 Z" fill="#000" stroke="none" stroke-width="1" />
<path d="M207.30,407.61 L210.77,413.72 L203.84,413.72 Z" fill="#000" stroke="none" stroke-width="1" />
<circle cx="100.00" cy="489.81" r="3.30" fill="#000"/>
<circle cx="126.90" cy="489.14" r="3.30" fill="#000"/>
<circle cx="153.50" cy="465.99" r="3.30" fill="#000"/>
<circle cx="181.30" cy="464.00" r="3.30" fill="#000"/>
<circle cx="207.30" cy="458.71" r="3.30" fill="#000"/>
<rect x="97.03" y="470.30" width="5.94" height="5.94" fill="#000" stroke="none" stroke-width="1"/>
<rect x="123.93" y="447.80" width="5.94" height="5.94" fill="#000" stroke="none" stroke-width="1"/>
<rect x="150.53" y="394.21" width="5.94" height="5.94" fill="#000" stroke="none" stroke-width="1"/>
<rect x="178.33" y="367.09" width="5.94" height="5.94" fill="#000" stroke="none" stroke-width="1"/>
<rect x="204.33" y="378.33" width="5.94" height="5.94" fill="#000" stroke="none" stroke-width="1"/>
<line x1="68.70" y1="343.10" x2="83.50" y2="343.10" stroke="#000" stroke-width="1.1"/>
<path d="M76.90,339.91 L79.80,343.10 L76.90,346.29 L74.00,343.10 Z" fill="#000" stroke="none" stroke-width="1" />
<text x="85.48" y="345.60" font-size="8.6" font-weight="normal" text-anchor="start" textLength="27.16" lengthAdjust="spacingAndGlyphs" stroke="#000" stroke-width="0.2">control</text>
<line x1="68.70" y1="354.80" x2="83.50" y2="354.80" stroke="#000" stroke-width="1.1"/>
<path d="M76.90,351.75 L79.95,357.12 L73.86,357.12 Z" fill="#000" stroke="none" stroke-width="1" />
<text x="85.48" y="357.50" font-size="8.6" font-weight="normal" text-anchor="start" textLength="53.66" lengthAdjust="spacingAndGlyphs" stroke="#000" stroke-width="0.2">Rapa 1ng/mL</text>
<line x1="68.70" y1="367.30" x2="83.50" y2="367.30" stroke="#000" stroke-width="1.1"/>
<circle cx="76.90" cy="367.30" r="2.90" fill="#000"/>
<text x="85.48" y="370.00" font-size="8.6" font-weight="normal" text-anchor="start" textLength="59.46" lengthAdjust="spacingAndGlyphs" stroke="#000" stroke-width="0.2">Rapa 10 ng/mL</text>
<line x1="68.70" y1="380.80" x2="83.50" y2="380.80" stroke="#000" stroke-width="1.1"/>
<rect x="74.29" y="378.19" width="5.22" height="5.22" fill="#000" stroke="none" stroke-width="1"/>
<text x="85.48" y="383.30" font-size="8.6" font-weight="normal" text-anchor="start" textLength="65.26" lengthAdjust="spacingAndGlyphs" stroke="#000" stroke-width="0.2">FK506 10 ng/mL</text>
<text x="249.60" y="317.40" font-size="33.5" font-weight="bold" text-anchor="start" textLength="23.20" lengthAdjust="spacingAndGlyphs" >C</text>
<line x1="295.00" y1="349.70" x2="295.00" y2="513.40" stroke="#000" stroke-width="1.1"/>
<line x1="291.20" y1="513.40" x2="295.00" y2="513.40" stroke="#000" stroke-width="1.1"/>
<text x="285.60" y="518.80" font-size="14" font-weight="normal" text-anchor="end" textLength="6.90" lengthAdjust="spacingAndGlyphs" >0</text>
<line x1="291.20" y1="480.66" x2="295.00" y2="480.66" stroke="#000" stroke-width="1.1"/>
<text x="285.60" y="486.06" font-size="14" font-weight="normal" text-anchor="end" textLength="13.60" lengthAdjust="spacingAndGlyphs" >20</text>
<line x1="291.20" y1="447.92" x2="295.00" y2="447.92" stroke="#000" stroke-width="1.1"/>
<text x="285.60" y="453.32" font-size="14" font-weight="normal" text-anchor="end" textLength="13.60" lengthAdjust="spacingAndGlyphs" >40</text>
<line x1="291.20" y1="415.18" x2="295.00" y2="415.18" stroke="#000" stroke-width="1.1"/>
<text x="285.60" y="420.58" font-size="14" font-weight="normal" text-anchor="end" textLength="13.60" lengthAdjust="spacingAndGlyphs" >60</text>
<line x1="291.20" y1="382.44" x2="295.00" y2="382.44" stroke="#000" stroke-width="1.1"/>
<text x="285.60" y="387.84" font-size="14" font-weight="normal" text-anchor="end" textLength="13.60" lengthAdjust="spacingAndGlyphs" >80</text>
<line x1="291.20" y1="349.70" x2="295.00" y2="349.70" stroke="#000" stroke-width="1.1"/>
<text x="285.60" y="355.10" font-size="14" font-weight="normal" text-anchor="end" textLength="20.20" lengthAdjust="spacingAndGlyphs" >100</text>
<line x1="291.20" y1="513.40" x2="518.00" y2="513.40" stroke="#000" stroke-width="1.1"/>
<text transform="translate(257.90,491.50) rotate(-90)" font-size="12.5" font-weight="bold" textLength="101.50" lengthAdjust="spacingAndGlyphs" >Positive cells (%)</text>
<rect x="308.70" y="340.60" width="8.60" height="9.20" fill="#000" stroke="none" stroke-width="1"/>
<rect x="309.30" y="361.10" width="7.60" height="8.40" fill="#e4e4e4" stroke="#000" stroke-width="1.1"/>
<text x="319.25" y="349.80" font-size="12.5" font-weight="normal" text-anchor="start" textLength="37.05" lengthAdjust="spacingAndGlyphs" stroke="#000" stroke-width="0.25">Control</text>
<text x="319.25" y="370.00" font-size="12.5" font-weight="normal" text-anchor="start" textLength="33.75" lengthAdjust="spacingAndGlyphs" stroke="#000" stroke-width="0.25">RAPA</text>
<rect x="306.80" y="493.76" width="15.50" height="19.64" fill="#000" stroke="none" stroke-width="1"/>
<line x1="314.55" y1="480.66" x2="314.55" y2="493.76" stroke="#000" stroke-width="1.1"/>
<line x1="313.25" y1="480.66" x2="315.85" y2="480.66" stroke="#000" stroke-width="1.1"/>
<line x1="313.25" y1="493.76" x2="315.85" y2="493.76" stroke="#000" stroke-width="1.1"/>
<rect x="322.85" y="491.63" width="15.20" height="21.77" fill="#e6e6e6" stroke="#000" stroke-width="1.1"/>
<line x1="330.45" y1="485.57" x2="330.45" y2="497.03" stroke="#000" stroke-width="1.1"/>
<line x1="329.15" y1="485.57" x2="331.75" y2="485.57" stroke="#000" stroke-width="1.1"/>
<line x1="329.15" y1="497.03" x2="331.75" y2="497.03" stroke="#000" stroke-width="1.1"/>
<rect x="362.90" y="377.53" width="15.70" height="135.87" fill="#000" stroke="none" stroke-width="1"/>
<line x1="370.75" y1="356.25" x2="370.75" y2="377.53" stroke="#000" stroke-width="1.1"/>
<line x1="369.45" y1="356.25" x2="372.05" y2="356.25" stroke="#000" stroke-width="1.1"/>
<line x1="369.45" y1="377.53" x2="372.05" y2="377.53" stroke="#000" stroke-width="1.1"/>
<rect x="379.15" y="377.53" width="15.20" height="135.87" fill="#e6e6e6" stroke="#000" stroke-width="1.1"/>
<line x1="386.75" y1="352.97" x2="386.75" y2="400.45" stroke="#000" stroke-width="1.1"/>
<line x1="385.45" y1="352.97" x2="388.05" y2="352.97" stroke="#000" stroke-width="1.1"/>
<line x1="385.45" y1="400.45" x2="388.05" y2="400.45" stroke="#000" stroke-width="1.1"/>
<rect x="418.30" y="453.49" width="16.30" height="59.91" fill="#000" stroke="none" stroke-width="1"/>
<line x1="426.45" y1="436.46" x2="426.45" y2="453.49" stroke="#000" stroke-width="1.1"/>
<line x1="425.15" y1="436.46" x2="427.75" y2="436.46" stroke="#000" stroke-width="1.1"/>
<line x1="425.15" y1="453.49" x2="427.75" y2="453.49" stroke="#000" stroke-width="1.1"/>
<rect x="435.15" y="421.73" width="14.40" height="91.67" fill="#e6e6e6" stroke="#000" stroke-width="1.1"/>
<line x1="442.35" y1="404.21" x2="442.35" y2="439.73" stroke="#000" stroke-width="1.1"/>
<line x1="441.05" y1="404.21" x2="443.65" y2="404.21" stroke="#000" stroke-width="1.1"/>
<line x1="441.05" y1="439.73" x2="443.65" y2="439.73" stroke="#000" stroke-width="1.1"/>
<rect x="473.50" y="470.02" width="16.50" height="43.38" fill="#000" stroke="none" stroke-width="1"/>
<line x1="481.75" y1="444.97" x2="481.75" y2="470.02" stroke="#000" stroke-width="1.1"/>
<line x1="480.45" y1="444.97" x2="483.05" y2="444.97" stroke="#000" stroke-width="1.1"/>
<line x1="480.45" y1="470.02" x2="483.05" y2="470.02" stroke="#000" stroke-width="1.1"/>
<rect x="490.55" y="434.01" width="14.70" height="79.39" fill="#e6e6e6" stroke="#000" stroke-width="1.1"/>
<line x1="497.90" y1="414.03" x2="497.90" y2="452.83" stroke="#000" stroke-width="1.1"/>
<line x1="496.60" y1="414.03" x2="499.20" y2="414.03" stroke="#000" stroke-width="1.1"/>
<line x1="496.60" y1="452.83" x2="499.20" y2="452.83" stroke="#000" stroke-width="1.1"/>
<text x="306.90" y="540.80" font-size="13.3" font-weight="normal" text-anchor="start" textLength="33.13" lengthAdjust="spacingAndGlyphs" stroke="#000" stroke-width="0.2">CD40</text>
<text x="362.20" y="540.80" font-size="13.3" font-weight="normal" text-anchor="start" textLength="33.63" lengthAdjust="spacingAndGlyphs" stroke="#000" stroke-width="0.2">CD80</text>
<text x="417.20" y="540.80" font-size="13.3" font-weight="normal" text-anchor="start" textLength="34.13" lengthAdjust="spacingAndGlyphs" stroke="#000" stroke-width="0.2">CD86</text>
<text x="475.40" y="540.80" font-size="13.3" font-weight="normal" text-anchor="start" textLength="30.13" lengthAdjust="spacingAndGlyphs" stroke="#000" stroke-width="0.2">MHC</text>
<text x="469.60" y="558.80" font-size="13.3" font-weight="normal" text-anchor="start" textLength="39.93" lengthAdjust="spacingAndGlyphs" stroke="#000" stroke-width="0.2">class II</text>
<text x="1.90" y="583.40" font-size="32" font-weight="bold" text-anchor="start" textLength="21.90" lengthAdjust="spacingAndGlyphs" >D</text>
<line x1="56.50" y1="627.30" x2="56.50" y2="799.20" stroke="#000" stroke-width="1.1"/>
<line x1="53.10" y1="799.20" x2="56.50" y2="799.20" stroke="#000" stroke-width="1.1"/>
<text x="46.90" y="803.10" font-size="11.5" font-weight="bold" text-anchor="end" textLength="6.20" lengthAdjust="spacingAndGlyphs" >0</text>
<line x1="53.10" y1="764.84" x2="56.50" y2="764.84" stroke="#000" stroke-width="1.1"/>
<text x="46.90" y="768.74" font-size="11.5" font-weight="bold" text-anchor="end" textLength="12.90" lengthAdjust="spacingAndGlyphs" >10</text>
<line x1="53.10" y1="730.48" x2="56.50" y2="730.48" stroke="#000" stroke-width="1.1"/>
<text x="46.90" y="734.38" font-size="11.5" font-weight="bold" text-anchor="end" textLength="12.90" lengthAdjust="spacingAndGlyphs" >20</text>
<line x1="53.10" y1="696.12" x2="56.50" y2="696.12" stroke="#000" stroke-width="1.1"/>
<text x="46.90" y="700.02" font-size="11.5" font-weight="bold" text-anchor="end" textLength="12.90" lengthAdjust="spacingAndGlyphs" >30</text>
<line x1="53.10" y1="661.76" x2="56.50" y2="661.76" stroke="#000" stroke-width="1.1"/>
<text x="46.90" y="665.66" font-size="11.5" font-weight="bold" text-anchor="end" textLength="12.90" lengthAdjust="spacingAndGlyphs" >40</text>
<line x1="53.10" y1="627.40" x2="56.50" y2="627.40" stroke="#000" stroke-width="1.1"/>
<text x="46.90" y="631.30" font-size="11.5" font-weight="bold" text-anchor="end" textLength="12.90" lengthAdjust="spacingAndGlyphs" >50</text>
<line x1="53.10" y1="799.20" x2="236.50" y2="799.20" stroke="#000" stroke-width="1.1"/>
<line x1="74.90" y1="799.20" x2="74.90" y2="802.50" stroke="#000" stroke-width="1.1"/>
<line x1="110.90" y1="799.20" x2="110.90" y2="802.50" stroke="#000" stroke-width="1.1"/>
<line x1="147.70" y1="799.20" x2="147.70" y2="802.50" stroke="#000" stroke-width="1.1"/>
<line x1="182.80" y1="799.20" x2="182.80" y2="802.50" stroke="#000" stroke-width="1.1"/>
<line x1="219.60" y1="799.20" x2="219.60" y2="802.50" stroke="#000" stroke-width="1.1"/>
<text x="63.12" y="823.80" font-size="13" font-weight="bold" text-anchor="start" textLength="23.70" lengthAdjust="spacingAndGlyphs" >6.25</text>
<text x="100.22" y="823.80" font-size="13" font-weight="bold" text-anchor="start" textLength="23.30" lengthAdjust="spacingAndGlyphs" >12.5</text>
<text x="140.52" y="823.80" font-size="13" font-weight="bold" text-anchor="start" textLength="14.90" lengthAdjust="spacingAndGlyphs" >25</text>
<text x="176.52" y="823.80" font-size="13" font-weight="bold" text-anchor="start" textLength="14.80" lengthAdjust="spacingAndGlyphs" >50</text>
<text x="210.22" y="823.80" font-size="13" font-weight="bold" text-anchor="start" textLength="21.30" lengthAdjust="spacingAndGlyphs" >100</text>
<text transform="translate(17.90,815.70) rotate(-90)" font-size="12.5" font-weight="normal" textLength="195.80" lengthAdjust="spacingAndGlyphs" stroke="#000" stroke-width="0.3">[3H]TdR Incorporation cpm (x10³)</text>
<text x="56.25" y="861.50" font-size="12.5" font-weight="bold" text-anchor="start" textLength="196.25" lengthAdjust="spacingAndGlyphs" >Stimulator cell number/mL (x10³)</text>
<line x1="75.80" y1="756.94" x2="75.80" y2="767.25" stroke="#111" stroke-width="1.1"/>
<line x1="72.80" y1="756.94" x2="78.80" y2="756.94" stroke="#111" stroke-width="1.1"/>
<line x1="72.80" y1="767.25" x2="78.80" y2="767.25" stroke="#111" stroke-width="1.1"/>
<line x1="111.00" y1="727.73" x2="111.00" y2="746.97" stroke="#111" stroke-width="1.1"/>
<line x1="108.00" y1="727.73" x2="114.00" y2="727.73" stroke="#111" stroke-width="1.1"/>
<line x1="108.00" y1="746.97" x2="114.00" y2="746.97" stroke="#111" stroke-width="1.1"/>
<line x1="147.80" y1="716.05" x2="147.80" y2="729.11" stroke="#111" stroke-width="1.1"/>
<line x1="144.80" y1="716.05" x2="150.80" y2="716.05" stroke="#111" stroke-width="1.1"/>
<line x1="144.80" y1="729.11" x2="150.80" y2="729.11" stroke="#111" stroke-width="1.1"/>
<line x1="183.80" y1="685.81" x2="183.80" y2="718.11" stroke="#111" stroke-width="1.1"/>
<line x1="180.80" y1="685.81" x2="186.80" y2="685.81" stroke="#111" stroke-width="1.1"/>
<line x1="180.80" y1="718.11" x2="186.80" y2="718.11" stroke="#111" stroke-width="1.1"/>
<line x1="220.50" y1="696.12" x2="220.50" y2="700.24" stroke="#111" stroke-width="1.1"/>
<line x1="217.50" y1="696.12" x2="223.50" y2="696.12" stroke="#111" stroke-width="1.1"/>
<line x1="217.50" y1="700.24" x2="223.50" y2="700.24" stroke="#111" stroke-width="1.1"/>
<line x1="75.80" y1="715.02" x2="75.80" y2="737.35" stroke="#111" stroke-width="1.1"/>
<line x1="72.80" y1="715.02" x2="78.80" y2="715.02" stroke="#111" stroke-width="1.1"/>
<line x1="72.80" y1="737.35" x2="78.80" y2="737.35" stroke="#111" stroke-width="1.1"/>
<line x1="111.00" y1="689.94" x2="111.00" y2="702.99" stroke="#111" stroke-width="1.1"/>
<line x1="108.00" y1="689.94" x2="114.00" y2="689.94" stroke="#111" stroke-width="1.1"/>
<line x1="108.00" y1="702.99" x2="114.00" y2="702.99" stroke="#111" stroke-width="1.1"/>
<line x1="147.80" y1="665.20" x2="147.80" y2="684.09" stroke="#111" stroke-width="1.1"/>
<line x1="144.80" y1="665.20" x2="150.80" y2="665.20" stroke="#111" stroke-width="1.1"/>
<line x1="144.80" y1="684.09" x2="150.80" y2="684.09" stroke="#111" stroke-width="1.1"/>
<line x1="183.80" y1="666.91" x2="183.80" y2="680.66" stroke="#111" stroke-width="1.1"/>
<line x1="180.80" y1="666.91" x2="186.80" y2="666.91" stroke="#111" stroke-width="1.1"/>
<line x1="180.80" y1="680.66" x2="186.80" y2="680.66" stroke="#111" stroke-width="1.1"/>
<line x1="220.50" y1="662.45" x2="220.50" y2="675.50" stroke="#111" stroke-width="1.1"/>
<line x1="217.50" y1="662.45" x2="223.50" y2="662.45" stroke="#111" stroke-width="1.1"/>
<line x1="217.50" y1="675.50" x2="223.50" y2="675.50" stroke="#111" stroke-width="1.1"/>
<line x1="75.80" y1="737.35" x2="75.80" y2="751.10" stroke="#111" stroke-width="1.1"/>
<line x1="72.80" y1="737.35" x2="78.80" y2="737.35" stroke="#111" stroke-width="1.1"/>
<line x1="72.80" y1="751.10" x2="78.80" y2="751.10" stroke="#111" stroke-width="1.1"/>
<line x1="111.00" y1="715.02" x2="111.00" y2="727.04" stroke="#111" stroke-width="1.1"/>
<line x1="108.00" y1="715.02" x2="114.00" y2="715.02" stroke="#111" stroke-width="1.1"/>
<line x1="108.00" y1="727.04" x2="114.00" y2="727.04" stroke="#111" stroke-width="1.1"/>
<line x1="147.80" y1="706.43" x2="147.80" y2="721.55" stroke="#111" stroke-width="1.1"/>
<line x1="144.80" y1="706.43" x2="150.80" y2="706.43" stroke="#111" stroke-width="1.1"/>
<line x1="144.80" y1="721.55" x2="150.80" y2="721.55" stroke="#111" stroke-width="1.1"/>
<line x1="183.80" y1="699.56" x2="183.80" y2="715.02" stroke="#111" stroke-width="1.1"/>
<line x1="180.80" y1="699.56" x2="186.80" y2="699.56" stroke="#111" stroke-width="1.1"/>
<line x1="180.80" y1="715.02" x2="186.80" y2="715.02" stroke="#111" stroke-width="1.1"/>
<line x1="220.50" y1="706.43" x2="220.50" y2="715.71" stroke="#111" stroke-width="1.1"/>
<line x1="217.50" y1="706.43" x2="223.50" y2="706.43" stroke="#111" stroke-width="1.1"/>
<line x1="217.50" y1="715.71" x2="223.50" y2="715.71" stroke="#111" stroke-width="1.1"/>
<path d="M75.80,761.75 L111.00,737.35 L147.80,722.58 L183.80,702.30 L220.50,698.18" fill="none" stroke="#000" stroke-width="1.3" />
<path d="M75.80,726.36 L111.00,697.49 L147.80,674.82 L183.80,674.13 L220.50,670.01" fill="none" stroke="#000" stroke-width="1.3" />
<path d="M75.80,743.54 L111.00,720.86 L147.80,715.02 L183.80,706.43 L220.50,711.24" fill="none" stroke="#000" stroke-width="1.3" />
<path d="M75.80,757.35 L79.80,761.75 L75.80,766.15 L71.80,761.75 Z" fill="#000" stroke="none" stroke-width="1" />
<path d="M111.00,732.95 L115.00,737.35 L111.00,741.75 L107.00,737.35 Z" fill="#000" stroke="none" stroke-width="1" />
<path d="M147.80,718.18 L151.80,722.58 L147.80,726.98 L143.80,722.58 Z" fill="#000" stroke="none" stroke-width="1" />
<path d="M183.80,697.90 L187.80,702.30 L183.80,706.70 L179.80,702.30 Z" fill="#000" stroke="none" stroke-width="1" />
<path d="M220.50,693.78 L224.50,698.18 L220.50,702.58 L216.50,698.18 Z" fill="#000" stroke="none" stroke-width="1" />
<path d="M75.80,722.16 L80.00,729.56 L71.60,729.56 Z" fill="#000" stroke="none" stroke-width="1" />
<path d="M111.00,693.29 L115.20,700.69 L106.80,700.69 Z" fill="#000" stroke="none" stroke-width="1" />
<path d="M147.80,670.62 L152.00,678.02 L143.60,678.02 Z" fill="#000" stroke="none" stroke-width="1" />
<path d="M183.80,669.93 L188.00,677.33 L179.60,677.33 Z" fill="#000" stroke="none" stroke-width="1" />
<path d="M220.50,665.81 L224.70,673.21 L216.30,673.21 Z" fill="#000" stroke="none" stroke-width="1" />
<circle cx="75.80" cy="743.54" r="4.00" fill="#000"/>
<circle cx="111.00" cy="720.86" r="4.00" fill="#000"/>
<circle cx="147.80" cy="715.02" r="4.00" fill="#000"/>
<circle cx="183.80" cy="706.43" r="4.00" fill="#000"/>
<circle cx="220.50" cy="711.24" r="4.00" fill="#000"/>
<line x1="64.20" y1="618.80" x2="87.20" y2="618.80" stroke="#000" stroke-width="1.1"/>
<path d="M75.70,614.73 L79.40,618.80 L75.70,622.87 L72.00,618.80 Z" fill="#000" stroke="none" stroke-width="1" />
<text x="90.04" y="622.30" font-size="11" font-weight="normal" text-anchor="start" textLength="33.20" lengthAdjust="spacingAndGlyphs" stroke="#000" stroke-width="0.4">Control</text>
<line x1="64.20" y1="635.00" x2="87.20" y2="635.00" stroke="#000" stroke-width="1.1"/>
<path d="M75.70,631.12 L79.59,637.96 L71.81,637.96 Z" fill="#000" stroke="none" stroke-width="1" />
<text x="90.04" y="638.50" font-size="11" font-weight="normal" text-anchor="start" textLength="65.00" lengthAdjust="spacingAndGlyphs" stroke="#000" stroke-width="0.4">Rapa 1 ng/mL</text>
<line x1="64.20" y1="652.30" x2="87.20" y2="652.30" stroke="#000" stroke-width="1.1"/>
<circle cx="75.70" cy="652.30" r="3.70" fill="#000"/>
<text x="90.04" y="655.80" font-size="11" font-weight="normal" text-anchor="start" textLength="70.10" lengthAdjust="spacingAndGlyphs" stroke="#000" stroke-width="0.4">Rapa 10 ng/mL</text>
<text x="248.80" y="586.80" font-size="32" font-weight="bold" text-anchor="start" textLength="20.20" lengthAdjust="spacingAndGlyphs" >E</text>
<line x1="291.90" y1="614.70" x2="291.90" y2="804.30" stroke="#333" stroke-width="1.1"/>
<line x1="289.20" y1="804.30" x2="291.90" y2="804.30" stroke="#333" stroke-width="1.1"/>
<text x="284.20" y="807.60" font-size="10" font-weight="normal" text-anchor="end" textLength="5.80" lengthAdjust="spacingAndGlyphs" stroke="#000" stroke-width="0.35">0</text>
<line x1="289.20" y1="766.38" x2="291.90" y2="766.38" stroke="#333" stroke-width="1.1"/>
<text x="284.20" y="769.68" font-size="10" font-weight="normal" text-anchor="end" textLength="11.20" lengthAdjust="spacingAndGlyphs" stroke="#000" stroke-width="0.35">20</text>
<line x1="289.20" y1="728.46" x2="291.90" y2="728.46" stroke="#333" stroke-width="1.1"/>
<text x="284.20" y="731.76" font-size="10" font-weight="normal" text-anchor="end" textLength="11.20" lengthAdjust="spacingAndGlyphs" stroke="#000" stroke-width="0.35">40</text>
<line x1="289.20" y1="690.54" x2="291.90" y2="690.54" stroke="#333" stroke-width="1.1"/>
<text x="284.20" y="693.84" font-size="10" font-weight="normal" text-anchor="end" textLength="11.20" lengthAdjust="spacingAndGlyphs" stroke="#000" stroke-width="0.35">60</text>
<line x1="289.20" y1="652.62" x2="291.90" y2="652.62" stroke="#333" stroke-width="1.1"/>
<text x="284.20" y="655.92" font-size="10" font-weight="normal" text-anchor="end" textLength="11.20" lengthAdjust="spacingAndGlyphs" stroke="#000" stroke-width="0.35">80</text>
<line x1="289.20" y1="614.70" x2="291.90" y2="614.70" stroke="#333" stroke-width="1.1"/>
<text x="284.20" y="618.00" font-size="10" font-weight="normal" text-anchor="end" textLength="15.80" lengthAdjust="spacingAndGlyphs" stroke="#000" stroke-width="0.35">100</text>
<line x1="289.20" y1="804.30" x2="518.00" y2="804.30" stroke="#333" stroke-width="1.1"/>
<text transform="translate(255.60,760.60) rotate(-90)" font-size="12.5" font-weight="bold" textLength="102.20" lengthAdjust="spacingAndGlyphs" >Positive cells (%)</text>
<rect x="431.20" y="609.60" width="7.80" height="6.60" fill="#8e8e8e" stroke="#000" stroke-width="1.1"/>
<rect x="431.20" y="625.90" width="7.80" height="6.60" fill="#fff" stroke="#000" stroke-width="1"/>
<rect x="430.70" y="641.30" width="8.90" height="7.00" fill="#000" stroke="none" stroke-width="1"/>
<text x="441.54" y="616.50" font-size="11" font-weight="normal" text-anchor="start" textLength="37.00" lengthAdjust="spacingAndGlyphs" stroke="#000" stroke-width="0.2">Control</text>
<text x="441.54" y="632.80" font-size="11" font-weight="normal" text-anchor="start" textLength="67.40" lengthAdjust="spacingAndGlyphs" stroke="#000" stroke-width="0.2">RAPA 1ng/ml</text>
<text x="441.54" y="648.40" font-size="11" font-weight="normal" text-anchor="start" textLength="74.70" lengthAdjust="spacingAndGlyphs" stroke="#000" stroke-width="0.2">RAPA 10 ng/ml</text>
<rect x="301.65" y="771.60" width="11.10" height="32.70" fill="#8e8e8e" stroke="#000" stroke-width="1.3"/>
<line x1="307.20" y1="767.00" x2="307.20" y2="778.00" stroke="#000" stroke-width="1"/>
<line x1="305.70" y1="767.00" x2="308.70" y2="767.00" stroke="#000" stroke-width="1"/>
<line x1="305.70" y1="778.00" x2="308.70" y2="778.00" stroke="#000" stroke-width="1"/>
<line x1="313.40" y1="777.00" x2="325.40" y2="777.00" stroke="#000" stroke-width="1"/>
<line x1="319.40" y1="775.50" x2="319.40" y2="779.50" stroke="#000" stroke-width="1"/>
<line x1="317.90" y1="775.50" x2="320.90" y2="775.50" stroke="#000" stroke-width="1"/>
<line x1="317.90" y1="779.50" x2="320.90" y2="779.50" stroke="#000" stroke-width="1"/>
<rect x="325.40" y="774.70" width="13.30" height="29.60" fill="#000" stroke="none" stroke-width="1"/>
<line x1="332.05" y1="766.50" x2="332.05" y2="774.70" stroke="#000" stroke-width="1"/>
<line x1="330.55" y1="766.50" x2="333.55" y2="766.50" stroke="#000" stroke-width="1"/>
<line x1="330.55" y1="774.70" x2="333.55" y2="774.70" stroke="#000" stroke-width="1"/>
<rect x="357.85" y="634.90" width="11.20" height="169.40" fill="#8e8e8e" stroke="#000" stroke-width="1.3"/>
<line x1="363.45" y1="633.00" x2="363.45" y2="637.00" stroke="#000" stroke-width="1"/>
<line x1="361.95" y1="633.00" x2="364.95" y2="633.00" stroke="#000" stroke-width="1"/>
<line x1="361.95" y1="637.00" x2="364.95" y2="637.00" stroke="#000" stroke-width="1"/>
<line x1="369.70" y1="639.50" x2="381.80" y2="639.50" stroke="#000" stroke-width="1"/>
<line x1="375.75" y1="635.80" x2="375.75" y2="643.80" stroke="#000" stroke-width="1"/>
<line x1="374.25" y1="635.80" x2="377.25" y2="635.80" stroke="#000" stroke-width="1"/>
<line x1="374.25" y1="643.80" x2="377.25" y2="643.80" stroke="#000" stroke-width="1"/>
<rect x="381.80" y="639.70" width="13.30" height="164.60" fill="#000" stroke="none" stroke-width="1"/>
<line x1="388.45" y1="634.30" x2="388.45" y2="639.70" stroke="#000" stroke-width="1"/>
<line x1="386.95" y1="634.30" x2="389.95" y2="634.30" stroke="#000" stroke-width="1"/>
<line x1="386.95" y1="639.70" x2="389.95" y2="639.70" stroke="#000" stroke-width="1"/>
<rect x="413.85" y="668.80" width="11.60" height="135.50" fill="#8e8e8e" stroke="#000" stroke-width="1.3"/>
<line x1="419.65" y1="659.20" x2="419.65" y2="678.00" stroke="#000" stroke-width="1"/>
<line x1="418.15" y1="659.20" x2="421.15" y2="659.20" stroke="#000" stroke-width="1"/>
<line x1="418.15" y1="678.00" x2="421.15" y2="678.00" stroke="#000" stroke-width="1"/>
<line x1="426.10" y1="681.10" x2="437.60" y2="681.10" stroke="#000" stroke-width="1"/>
<line x1="431.85" y1="674.60" x2="431.85" y2="687.30" stroke="#000" stroke-width="1"/>
<line x1="430.35" y1="674.60" x2="433.35" y2="674.60" stroke="#000" stroke-width="1"/>
<line x1="430.35" y1="687.30" x2="433.35" y2="687.30" stroke="#000" stroke-width="1"/>
<rect x="437.60" y="676.90" width="13.20" height="127.40" fill="#000" stroke="none" stroke-width="1"/>
<line x1="444.20" y1="660.80" x2="444.20" y2="676.90" stroke="#000" stroke-width="1"/>
<line x1="442.70" y1="660.80" x2="445.70" y2="660.80" stroke="#000" stroke-width="1"/>
<line x1="442.70" y1="676.90" x2="445.70" y2="676.90" stroke="#000" stroke-width="1"/>
<rect x="469.15" y="721.90" width="12.10" height="82.40" fill="#8e8e8e" stroke="#000" stroke-width="1.3"/>
<line x1="475.20" y1="698.90" x2="475.20" y2="746.20" stroke="#000" stroke-width="1"/>
<line x1="473.70" y1="698.90" x2="476.70" y2="698.90" stroke="#000" stroke-width="1"/>
<line x1="473.70" y1="746.20" x2="476.70" y2="746.20" stroke="#000" stroke-width="1"/>
<line x1="481.90" y1="725.90" x2="494.20" y2="725.90" stroke="#000" stroke-width="1"/>
<line x1="488.05" y1="694.70" x2="488.05" y2="757.70" stroke="#000" stroke-width="1"/>
<line x1="486.55" y1="694.70" x2="489.55" y2="694.70" stroke="#000" stroke-width="1"/>
<line x1="486.55" y1="757.70" x2="489.55" y2="757.70" stroke="#000" stroke-width="1"/>
<rect x="494.20" y="709.70" width="13.10" height="94.60" fill="#000" stroke="none" stroke-width="1"/>
<line x1="500.75" y1="664.90" x2="500.75" y2="709.70" stroke="#000" stroke-width="1"/>
<line x1="499.25" y1="664.90" x2="502.25" y2="664.90" stroke="#000" stroke-width="1"/>
<line x1="499.25" y1="709.70" x2="502.25" y2="709.70" stroke="#000" stroke-width="1"/>
<text x="302.52" y="826.80" font-size="13" font-weight="normal" text-anchor="start" textLength="33.10" lengthAdjust="spacingAndGlyphs" stroke="#000" stroke-width="0.2">CD40</text>
<text x="358.62" y="826.80" font-size="13" font-weight="normal" text-anchor="start" textLength="32.70" lengthAdjust="spacingAndGlyphs" stroke="#000" stroke-width="0.2">CD80</text>
<text x="415.22" y="826.80" font-size="13" font-weight="normal" text-anchor="start" textLength="32.30" lengthAdjust="spacingAndGlyphs" stroke="#000" stroke-width="0.2">CD86</text>
<text x="472.72" y="826.80" font-size="13" font-weight="normal" text-anchor="start" textLength="29.20" lengthAdjust="spacingAndGlyphs" stroke="#000" stroke-width="0.2">MHC</text>
<text x="468.22" y="842.80" font-size="13" font-weight="normal" text-anchor="start" textLength="39.00" lengthAdjust="spacingAndGlyphs" stroke="#000" stroke-width="0.2">class II</text>
</svg>
</body></html>
